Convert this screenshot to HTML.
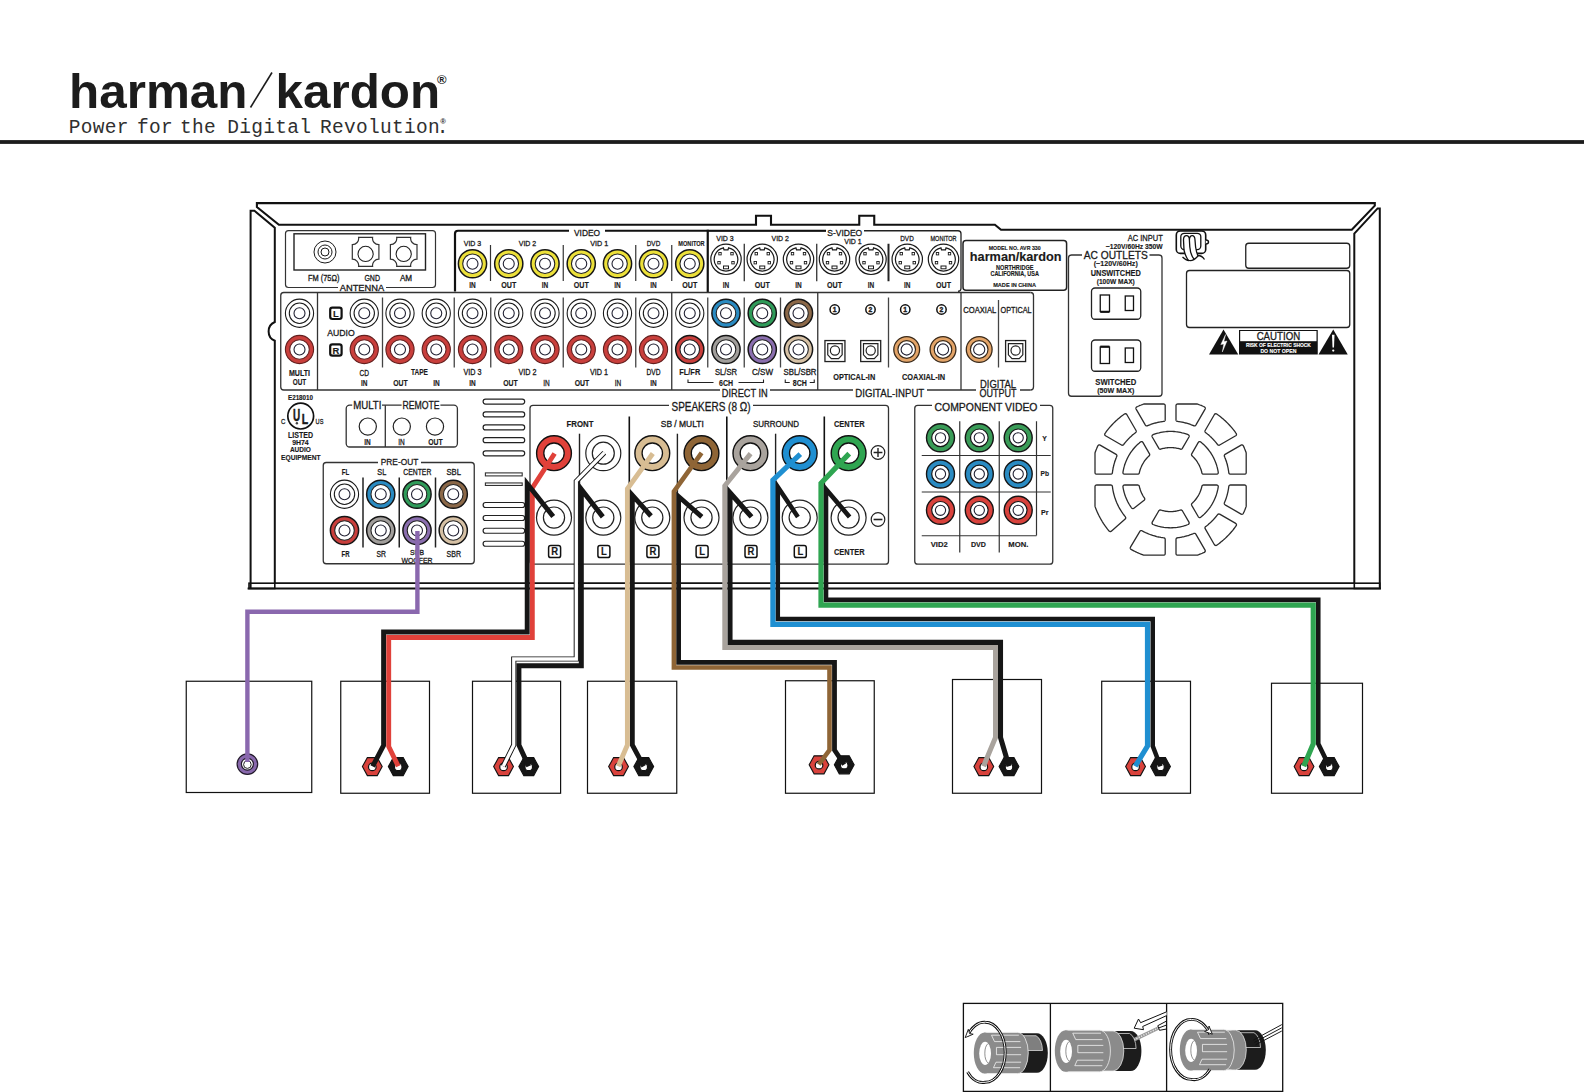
<!DOCTYPE html>
<html lang="en"><head><meta charset="utf-8"><title>harman/kardon AVR 330 speaker connections</title>
<style>
html,body{margin:0;padding:0;background:#fff}
body{width:1584px;height:1092px;overflow:hidden}
svg{display:block;font-family:"Liberation Sans",sans-serif}
.mono{font-family:"Liberation Mono",monospace}
</style></head><body>
<svg width="1584" height="1092" viewBox="0 0 1584 1092">
<rect width="1584" height="1092" fill="#fff"/>
<text x="69" y="107.5" font-size="48.5" font-weight="bold" fill="#1c1c1c" textLength="178.5" lengthAdjust="spacingAndGlyphs">harman</text>
<line x1="250.50" y1="107.50" x2="272.00" y2="72.50" stroke="#1c1c1c" stroke-width="1.6"/>
<text x="275.6" y="107.5" font-size="48.5" font-weight="bold" fill="#1c1c1c" textLength="164.5" lengthAdjust="spacingAndGlyphs">kardon</text>
<text x="437.1" y="84.4" font-size="13" font-weight="bold" fill="#1c1c1c">®</text>
<text class="mono" x="68.85" y="133" font-size="19.5" letter-spacing="0.3" fill="#303030">Power</text>
<text class="mono" x="137.05" y="133" font-size="19.5" letter-spacing="0.3" fill="#303030">for</text>
<text class="mono" x="179.95" y="133" font-size="19.5" letter-spacing="0.3" fill="#303030">the</text>
<text class="mono" x="227.35" y="133" font-size="19.5" letter-spacing="0.3" fill="#303030">Digital</text>
<text class="mono" x="319.95" y="133" font-size="19.5" letter-spacing="0.3" fill="#303030">Revolution</text>
<text class="mono" x="436.65" y="133" font-size="19.5" letter-spacing="0.3" fill="#303030">.</text>
<text x="440.2" y="123.7" font-size="7.6" font-weight="bold" fill="#2a2a2a">®</text>
<rect x="0.00" y="140.10" width="1584.00" height="3.80" rx="0" stroke="none" stroke-width="0" fill="#1c1c1c"/>
<path d="M256.9 207 L256.9 203.1 L1374.8 203.1 L1374.8 205.6 L1351.8 229.8 L1001 229.8 L994.9 224.8 L874.25 224.8 L874.25 215.75 L859.25 215.75 L859.25 224.8 L771 224.8 L771 215.75 L756 215.75 L756 224.8 L278.9 224.8 Z" stroke="#111" stroke-width="2.1" fill="none" stroke-linejoin="miter"/>
<path d="M250.6 588.5 L250.6 210.7 L254.4 210.7 L274.8 227.8 L274.8 322 A 10.2 10.2 0 0 0 274.8 340.75 L274.8 583.2" stroke="#111" stroke-width="2.0" fill="none"/>
<path d="M1379.8 588.5 L1379.8 208.4 L1377.6 208.4 L1354.3 233.6 L1354.3 583.2" stroke="#111" stroke-width="2.0" fill="none"/>
<line x1="274.80" y1="583.20" x2="1354.30" y2="583.20" stroke="#111" stroke-width="1.8"/>
<line x1="247.60" y1="588.50" x2="1381.00" y2="588.50" stroke="#111" stroke-width="2.2"/>
<rect x="249.00" y="583.20" width="25.80" height="5.30" rx="0" stroke="#111" stroke-width="1.6" fill="none"/>
<rect x="1354.30" y="583.20" width="25.50" height="5.30" rx="0" stroke="#111" stroke-width="1.6" fill="none"/>
<rect x="285.50" y="230.60" width="150.00" height="56.90" rx="3" stroke="#333" stroke-width="1.2" fill="none"/>
<rect x="294.00" y="233.80" width="131.50" height="36.20" rx="0" stroke="#222" stroke-width="1.4" fill="none"/>
<rect x="338.00" y="285.00" width="48.00" height="5.00" rx="0" stroke="none" stroke-width="0" fill="#fff"/>
<circle cx="325.00" cy="252.00" r="11.00" stroke="#1a1a1a" stroke-width="1.0" fill="none"/>
<circle cx="325.00" cy="252.00" r="7.00" stroke="#1a1a1a" stroke-width="1.0" fill="none"/>
<circle cx="325.00" cy="252.00" r="4.00" stroke="#1a1a1a" stroke-width="1.0" fill="none"/>
<path d="M358.60 237.40 L372.60 237.40 A6.3 6.3 0 0 0 378.90 244.70 L378.90 259.10 A6.3 6.3 0 0 0 372.60 266.40 L358.60 266.40 A6.3 6.3 0 0 0 352.30 259.10 L352.30 244.70 A6.3 6.3 0 0 0 358.60 237.40 Z" stroke="#333" stroke-width="1.2" fill="#fff"/>
<circle cx="365.60" cy="253.90" r="7.60" stroke="#222" stroke-width="1.1" fill="none"/>
<path d="M396.70 237.40 L410.70 237.40 A6.3 6.3 0 0 0 417.00 244.70 L417.00 259.10 A6.3 6.3 0 0 0 410.70 266.40 L396.70 266.40 A6.3 6.3 0 0 0 390.40 259.10 L390.40 244.70 A6.3 6.3 0 0 0 396.70 237.40 Z" stroke="#333" stroke-width="1.2" fill="#fff"/>
<circle cx="403.70" cy="253.90" r="7.60" stroke="#222" stroke-width="1.1" fill="none"/>
<text x="308.00" y="280.50" font-size="8.4" textLength="31.50" lengthAdjust="spacingAndGlyphs" fill="#1a1a1a" stroke="#1a1a1a" stroke-width="0.3">FM (75Ω)</text>
<text x="364.40" y="280.50" font-size="8.4" textLength="15.60" lengthAdjust="spacingAndGlyphs" fill="#1a1a1a" stroke="#1a1a1a" stroke-width="0.3">GND</text>
<text x="399.90" y="280.50" font-size="8.4" textLength="12.20" lengthAdjust="spacingAndGlyphs" fill="#1a1a1a" stroke="#1a1a1a" stroke-width="0.3">AM</text>
<text x="339.75" y="291.30" font-size="9.2" textLength="44.50" lengthAdjust="spacingAndGlyphs" fill="#1a1a1a" stroke="#1a1a1a" stroke-width="0.3">ANTENNA</text>
<path d="M707.75 230.75 L458 230.75 Q455 230.75 455 233.75 L455 291.5" stroke="#111" stroke-width="2.2" fill="none"/>
<line x1="707.75" y1="229.70" x2="707.75" y2="292.00" stroke="#111" stroke-width="2.2"/>
<path d="M707.75 230.75 L958 230.75 Q961 230.75 961 233.75 L961 288 Q961 291.25 958 291.25" stroke="#222" stroke-width="1.3" fill="none"/>
<line x1="707.75" y1="230.75" x2="860.00" y2="230.75" stroke="#111" stroke-width="2.2"/>
<rect x="569.00" y="228.00" width="36.00" height="6.00" rx="0" stroke="none" stroke-width="0" fill="#fff"/>
<rect x="826.00" y="228.00" width="38.00" height="6.00" rx="0" stroke="none" stroke-width="0" fill="#fff"/>
<text x="574.00" y="236.00" font-size="9" textLength="26.00" lengthAdjust="spacingAndGlyphs" fill="#1a1a1a" stroke="#1a1a1a" stroke-width="0.3">VIDEO</text>
<text x="827.25" y="236.00" font-size="9" textLength="35.00" lengthAdjust="spacingAndGlyphs" fill="#1a1a1a" stroke="#1a1a1a" stroke-width="0.3">S-VIDEO</text>
<circle cx="472.50" cy="263.75" r="14.10" stroke="#151515" stroke-width="1.5" fill="#ece03a"/>
<circle cx="472.50" cy="263.75" r="9.80" stroke="#222" stroke-width="1.1" fill="#fff"/>
<circle cx="472.50" cy="263.75" r="5.50" stroke="#223" stroke-width="1.1" fill="#fff"/>
<circle cx="508.75" cy="263.75" r="14.10" stroke="#151515" stroke-width="1.5" fill="#ece03a"/>
<circle cx="508.75" cy="263.75" r="9.80" stroke="#222" stroke-width="1.1" fill="#fff"/>
<circle cx="508.75" cy="263.75" r="5.50" stroke="#223" stroke-width="1.1" fill="#fff"/>
<circle cx="545.00" cy="263.75" r="14.10" stroke="#151515" stroke-width="1.5" fill="#ece03a"/>
<circle cx="545.00" cy="263.75" r="9.80" stroke="#222" stroke-width="1.1" fill="#fff"/>
<circle cx="545.00" cy="263.75" r="5.50" stroke="#223" stroke-width="1.1" fill="#fff"/>
<circle cx="581.25" cy="263.75" r="14.10" stroke="#151515" stroke-width="1.5" fill="#ece03a"/>
<circle cx="581.25" cy="263.75" r="9.80" stroke="#222" stroke-width="1.1" fill="#fff"/>
<circle cx="581.25" cy="263.75" r="5.50" stroke="#223" stroke-width="1.1" fill="#fff"/>
<circle cx="617.50" cy="263.75" r="14.10" stroke="#151515" stroke-width="1.5" fill="#ece03a"/>
<circle cx="617.50" cy="263.75" r="9.80" stroke="#222" stroke-width="1.1" fill="#fff"/>
<circle cx="617.50" cy="263.75" r="5.50" stroke="#223" stroke-width="1.1" fill="#fff"/>
<circle cx="653.50" cy="263.75" r="14.10" stroke="#151515" stroke-width="1.5" fill="#ece03a"/>
<circle cx="653.50" cy="263.75" r="9.80" stroke="#222" stroke-width="1.1" fill="#fff"/>
<circle cx="653.50" cy="263.75" r="5.50" stroke="#223" stroke-width="1.1" fill="#fff"/>
<circle cx="689.75" cy="263.75" r="14.10" stroke="#151515" stroke-width="1.5" fill="#ece03a"/>
<circle cx="689.75" cy="263.75" r="9.80" stroke="#222" stroke-width="1.1" fill="#fff"/>
<circle cx="689.75" cy="263.75" r="5.50" stroke="#223" stroke-width="1.1" fill="#fff"/>
<line x1="490.50" y1="245.00" x2="490.50" y2="281.00" stroke="#333" stroke-width="1.2"/>
<line x1="563.25" y1="245.00" x2="563.25" y2="281.00" stroke="#333" stroke-width="1.2"/>
<line x1="635.75" y1="245.00" x2="635.75" y2="281.00" stroke="#333" stroke-width="1.2"/>
<line x1="671.75" y1="245.00" x2="671.75" y2="281.00" stroke="#333" stroke-width="1.2"/>
<text x="463.75" y="245.80" font-size="8.0" textLength="17.50" lengthAdjust="spacingAndGlyphs" fill="#1a1a1a" stroke="#1a1a1a" stroke-width="0.3">VID 3</text>
<text x="518.75" y="245.80" font-size="8.0" textLength="17.50" lengthAdjust="spacingAndGlyphs" fill="#1a1a1a" stroke="#1a1a1a" stroke-width="0.3">VID 2</text>
<text x="590.30" y="245.80" font-size="8.0" textLength="18.00" lengthAdjust="spacingAndGlyphs" fill="#1a1a1a" stroke="#1a1a1a" stroke-width="0.3">VID 1</text>
<text x="646.75" y="245.80" font-size="8.0" textLength="13.50" lengthAdjust="spacingAndGlyphs" fill="#1a1a1a" stroke="#1a1a1a" stroke-width="0.3">DVD</text>
<text x="678.35" y="245.80" font-size="7.6" font-weight="bold" textLength="26.30" lengthAdjust="spacingAndGlyphs" fill="#1a1a1a" stroke="#1a1a1a" stroke-width="0.15">MONITOR</text>
<text x="469.25" y="288.20" font-size="8.6" font-weight="bold" textLength="6.50" lengthAdjust="spacingAndGlyphs" fill="#1a1a1a" stroke="#1a1a1a" stroke-width="0.15">IN</text>
<text x="501.25" y="288.20" font-size="8.6" font-weight="bold" textLength="15.00" lengthAdjust="spacingAndGlyphs" fill="#1a1a1a" stroke="#1a1a1a" stroke-width="0.15">OUT</text>
<text x="541.75" y="288.20" font-size="8.6" font-weight="bold" textLength="6.50" lengthAdjust="spacingAndGlyphs" fill="#1a1a1a" stroke="#1a1a1a" stroke-width="0.15">IN</text>
<text x="573.75" y="288.20" font-size="8.6" font-weight="bold" textLength="15.00" lengthAdjust="spacingAndGlyphs" fill="#1a1a1a" stroke="#1a1a1a" stroke-width="0.15">OUT</text>
<text x="614.25" y="288.20" font-size="8.6" font-weight="bold" textLength="6.50" lengthAdjust="spacingAndGlyphs" fill="#1a1a1a" stroke="#1a1a1a" stroke-width="0.15">IN</text>
<text x="650.25" y="288.20" font-size="8.6" font-weight="bold" textLength="6.50" lengthAdjust="spacingAndGlyphs" fill="#1a1a1a" stroke="#1a1a1a" stroke-width="0.15">IN</text>
<text x="682.25" y="288.20" font-size="8.6" font-weight="bold" textLength="15.00" lengthAdjust="spacingAndGlyphs" fill="#1a1a1a" stroke="#1a1a1a" stroke-width="0.15">OUT</text>
<circle cx="726.00" cy="259.30" r="15.20" stroke="#1a1a1a" stroke-width="1.2" fill="#fff"/>
<path d="M728.60 247.79 A11.8 11.8 0 1 1 723.40 247.79 L724.00 249.79 L728.00 249.79 Z" stroke="#1a1a1a" stroke-width="1.2" fill="#fff"/>
<rect x="718.80" y="252.50" width="2.40" height="2.40" rx="0" stroke="#1a1a1a" stroke-width="0.9" fill="#fff"/>
<rect x="730.80" y="252.50" width="2.40" height="2.40" rx="0" stroke="#1a1a1a" stroke-width="0.9" fill="#fff"/>
<rect x="717.80" y="261.50" width="2.40" height="2.40" rx="0" stroke="#1a1a1a" stroke-width="0.9" fill="#fff"/>
<rect x="731.80" y="261.50" width="2.40" height="2.40" rx="0" stroke="#1a1a1a" stroke-width="0.9" fill="#fff"/>
<rect x="723.50" y="266.00" width="5.00" height="2.80" rx="0" stroke="#1a1a1a" stroke-width="1.0" fill="#fff"/>
<circle cx="762.25" cy="259.30" r="15.20" stroke="#1a1a1a" stroke-width="1.2" fill="#fff"/>
<path d="M764.85 247.79 A11.8 11.8 0 1 1 759.65 247.79 L760.25 249.79 L764.25 249.79 Z" stroke="#1a1a1a" stroke-width="1.2" fill="#fff"/>
<rect x="755.05" y="252.50" width="2.40" height="2.40" rx="0" stroke="#1a1a1a" stroke-width="0.9" fill="#fff"/>
<rect x="767.05" y="252.50" width="2.40" height="2.40" rx="0" stroke="#1a1a1a" stroke-width="0.9" fill="#fff"/>
<rect x="754.05" y="261.50" width="2.40" height="2.40" rx="0" stroke="#1a1a1a" stroke-width="0.9" fill="#fff"/>
<rect x="768.05" y="261.50" width="2.40" height="2.40" rx="0" stroke="#1a1a1a" stroke-width="0.9" fill="#fff"/>
<rect x="759.75" y="266.00" width="5.00" height="2.80" rx="0" stroke="#1a1a1a" stroke-width="1.0" fill="#fff"/>
<circle cx="798.50" cy="259.30" r="15.20" stroke="#1a1a1a" stroke-width="1.2" fill="#fff"/>
<path d="M801.10 247.79 A11.8 11.8 0 1 1 795.90 247.79 L796.50 249.79 L800.50 249.79 Z" stroke="#1a1a1a" stroke-width="1.2" fill="#fff"/>
<rect x="791.30" y="252.50" width="2.40" height="2.40" rx="0" stroke="#1a1a1a" stroke-width="0.9" fill="#fff"/>
<rect x="803.30" y="252.50" width="2.40" height="2.40" rx="0" stroke="#1a1a1a" stroke-width="0.9" fill="#fff"/>
<rect x="790.30" y="261.50" width="2.40" height="2.40" rx="0" stroke="#1a1a1a" stroke-width="0.9" fill="#fff"/>
<rect x="804.30" y="261.50" width="2.40" height="2.40" rx="0" stroke="#1a1a1a" stroke-width="0.9" fill="#fff"/>
<rect x="796.00" y="266.00" width="5.00" height="2.80" rx="0" stroke="#1a1a1a" stroke-width="1.0" fill="#fff"/>
<circle cx="834.50" cy="259.30" r="15.20" stroke="#1a1a1a" stroke-width="1.2" fill="#fff"/>
<path d="M837.10 247.79 A11.8 11.8 0 1 1 831.90 247.79 L832.50 249.79 L836.50 249.79 Z" stroke="#1a1a1a" stroke-width="1.2" fill="#fff"/>
<rect x="827.30" y="252.50" width="2.40" height="2.40" rx="0" stroke="#1a1a1a" stroke-width="0.9" fill="#fff"/>
<rect x="839.30" y="252.50" width="2.40" height="2.40" rx="0" stroke="#1a1a1a" stroke-width="0.9" fill="#fff"/>
<rect x="826.30" y="261.50" width="2.40" height="2.40" rx="0" stroke="#1a1a1a" stroke-width="0.9" fill="#fff"/>
<rect x="840.30" y="261.50" width="2.40" height="2.40" rx="0" stroke="#1a1a1a" stroke-width="0.9" fill="#fff"/>
<rect x="832.00" y="266.00" width="5.00" height="2.80" rx="0" stroke="#1a1a1a" stroke-width="1.0" fill="#fff"/>
<circle cx="871.00" cy="259.30" r="15.20" stroke="#1a1a1a" stroke-width="1.2" fill="#fff"/>
<path d="M873.60 247.79 A11.8 11.8 0 1 1 868.40 247.79 L869.00 249.79 L873.00 249.79 Z" stroke="#1a1a1a" stroke-width="1.2" fill="#fff"/>
<rect x="863.80" y="252.50" width="2.40" height="2.40" rx="0" stroke="#1a1a1a" stroke-width="0.9" fill="#fff"/>
<rect x="875.80" y="252.50" width="2.40" height="2.40" rx="0" stroke="#1a1a1a" stroke-width="0.9" fill="#fff"/>
<rect x="862.80" y="261.50" width="2.40" height="2.40" rx="0" stroke="#1a1a1a" stroke-width="0.9" fill="#fff"/>
<rect x="876.80" y="261.50" width="2.40" height="2.40" rx="0" stroke="#1a1a1a" stroke-width="0.9" fill="#fff"/>
<rect x="868.50" y="266.00" width="5.00" height="2.80" rx="0" stroke="#1a1a1a" stroke-width="1.0" fill="#fff"/>
<circle cx="907.25" cy="259.30" r="15.20" stroke="#1a1a1a" stroke-width="1.2" fill="#fff"/>
<path d="M909.85 247.79 A11.8 11.8 0 1 1 904.65 247.79 L905.25 249.79 L909.25 249.79 Z" stroke="#1a1a1a" stroke-width="1.2" fill="#fff"/>
<rect x="900.05" y="252.50" width="2.40" height="2.40" rx="0" stroke="#1a1a1a" stroke-width="0.9" fill="#fff"/>
<rect x="912.05" y="252.50" width="2.40" height="2.40" rx="0" stroke="#1a1a1a" stroke-width="0.9" fill="#fff"/>
<rect x="899.05" y="261.50" width="2.40" height="2.40" rx="0" stroke="#1a1a1a" stroke-width="0.9" fill="#fff"/>
<rect x="913.05" y="261.50" width="2.40" height="2.40" rx="0" stroke="#1a1a1a" stroke-width="0.9" fill="#fff"/>
<rect x="904.75" y="266.00" width="5.00" height="2.80" rx="0" stroke="#1a1a1a" stroke-width="1.0" fill="#fff"/>
<circle cx="943.50" cy="259.30" r="15.20" stroke="#1a1a1a" stroke-width="1.2" fill="#fff"/>
<path d="M946.10 247.79 A11.8 11.8 0 1 1 940.90 247.79 L941.50 249.79 L945.50 249.79 Z" stroke="#1a1a1a" stroke-width="1.2" fill="#fff"/>
<rect x="936.30" y="252.50" width="2.40" height="2.40" rx="0" stroke="#1a1a1a" stroke-width="0.9" fill="#fff"/>
<rect x="948.30" y="252.50" width="2.40" height="2.40" rx="0" stroke="#1a1a1a" stroke-width="0.9" fill="#fff"/>
<rect x="935.30" y="261.50" width="2.40" height="2.40" rx="0" stroke="#1a1a1a" stroke-width="0.9" fill="#fff"/>
<rect x="949.30" y="261.50" width="2.40" height="2.40" rx="0" stroke="#1a1a1a" stroke-width="0.9" fill="#fff"/>
<rect x="941.00" y="266.00" width="5.00" height="2.80" rx="0" stroke="#1a1a1a" stroke-width="1.0" fill="#fff"/>
<line x1="744.25" y1="243.75" x2="744.25" y2="281.25" stroke="#222" stroke-width="1.2"/>
<line x1="816.75" y1="243.75" x2="816.75" y2="281.25" stroke="#222" stroke-width="1.2"/>
<line x1="888.50" y1="243.75" x2="888.50" y2="281.25" stroke="#222" stroke-width="2.0"/>
<text x="716.25" y="241.30" font-size="8.0" textLength="17.50" lengthAdjust="spacingAndGlyphs" fill="#1a1a1a" stroke="#1a1a1a" stroke-width="0.3">VID 3</text>
<text x="771.50" y="241.30" font-size="8.0" textLength="17.50" lengthAdjust="spacingAndGlyphs" fill="#1a1a1a" stroke="#1a1a1a" stroke-width="0.3">VID 2</text>
<text x="844.25" y="244.00" font-size="8.0" textLength="17.50" lengthAdjust="spacingAndGlyphs" fill="#1a1a1a" stroke="#1a1a1a" stroke-width="0.3">VID 1</text>
<text x="900.25" y="241.30" font-size="8.0" textLength="13.50" lengthAdjust="spacingAndGlyphs" fill="#1a1a1a" stroke="#1a1a1a" stroke-width="0.3">DVD</text>
<text x="930.50" y="241.30" font-size="7.6" textLength="26.00" lengthAdjust="spacingAndGlyphs" fill="#1a1a1a" stroke="#1a1a1a" stroke-width="0.3">MONITOR</text>
<text x="722.75" y="288.20" font-size="8.6" font-weight="bold" textLength="6.50" lengthAdjust="spacingAndGlyphs" fill="#1a1a1a" stroke="#1a1a1a" stroke-width="0.15">IN</text>
<text x="754.75" y="288.20" font-size="8.6" font-weight="bold" textLength="15.00" lengthAdjust="spacingAndGlyphs" fill="#1a1a1a" stroke="#1a1a1a" stroke-width="0.15">OUT</text>
<text x="795.25" y="288.20" font-size="8.6" font-weight="bold" textLength="6.50" lengthAdjust="spacingAndGlyphs" fill="#1a1a1a" stroke="#1a1a1a" stroke-width="0.15">IN</text>
<text x="827.00" y="288.20" font-size="8.6" font-weight="bold" textLength="15.00" lengthAdjust="spacingAndGlyphs" fill="#1a1a1a" stroke="#1a1a1a" stroke-width="0.15">OUT</text>
<text x="867.75" y="288.20" font-size="8.6" font-weight="bold" textLength="6.50" lengthAdjust="spacingAndGlyphs" fill="#1a1a1a" stroke="#1a1a1a" stroke-width="0.15">IN</text>
<text x="904.00" y="288.20" font-size="8.6" font-weight="bold" textLength="6.50" lengthAdjust="spacingAndGlyphs" fill="#1a1a1a" stroke="#1a1a1a" stroke-width="0.15">IN</text>
<text x="936.00" y="288.20" font-size="8.6" font-weight="bold" textLength="15.00" lengthAdjust="spacingAndGlyphs" fill="#1a1a1a" stroke="#1a1a1a" stroke-width="0.15">OUT</text>
<rect x="963.00" y="240.40" width="103.60" height="49.90" rx="3" stroke="#222" stroke-width="1.5" fill="none"/>
<text x="988.70" y="249.80" font-size="6.2" font-weight="bold" textLength="52.00" lengthAdjust="spacingAndGlyphs" fill="#1a1a1a" stroke="#1a1a1a" stroke-width="0.15">MODEL NO. AVR 330</text>
<text x="969.85" y="260.80" font-size="12.6" font-weight="bold" textLength="91.70" lengthAdjust="spacingAndGlyphs" fill="#1a1a1a" stroke="#1a1a1a" stroke-width="0.15">harman/kardon</text>
<text x="996.10" y="269.80" font-size="6.4" font-weight="bold" textLength="37.40" lengthAdjust="spacingAndGlyphs" fill="#1a1a1a" stroke="#1a1a1a" stroke-width="0.15">NORTHRIDGE</text>
<text x="990.45" y="275.80" font-size="6.4" font-weight="bold" textLength="48.50" lengthAdjust="spacingAndGlyphs" fill="#1a1a1a" stroke="#1a1a1a" stroke-width="0.15">CALIFORNIA, USA</text>
<text x="993.20" y="286.70" font-size="6.2" font-weight="bold" textLength="42.80" lengthAdjust="spacingAndGlyphs" fill="#1a1a1a" stroke="#1a1a1a" stroke-width="0.15">MADE IN CHINA</text>
<path d="M1030.5 292.5 L283.75 292.5 Q280.75 292.5 280.75 295.5 L280.75 387 Q280.75 390 283.75 390 L1030.5 390" stroke="#333" stroke-width="1.3" fill="none"/>
<path d="M1030.5 292.5 Q1033.5 292.5 1033.5 295.5 L1033.5 387 Q1033.5 390 1030.5 390" stroke="#333" stroke-width="1.3" fill="none"/>
<rect x="720.00" y="388.00" width="50.00" height="4.00" rx="0" stroke="none" stroke-width="0" fill="#fff"/>
<rect x="853.00" y="388.00" width="74.00" height="4.00" rx="0" stroke="none" stroke-width="0" fill="#fff"/>
<rect x="976.00" y="388.00" width="44.00" height="4.00" rx="0" stroke="none" stroke-width="0" fill="#fff"/>
<line x1="317.50" y1="292.50" x2="317.50" y2="390.00" stroke="#333" stroke-width="1.3"/>
<line x1="671.75" y1="292.50" x2="671.75" y2="390.00" stroke="#333" stroke-width="1.3"/>
<line x1="817.75" y1="292.50" x2="817.75" y2="390.00" stroke="#333" stroke-width="1.3"/>
<line x1="961.00" y1="292.50" x2="961.00" y2="390.00" stroke="#333" stroke-width="1.3"/>
<line x1="382.50" y1="297.50" x2="382.50" y2="367.50" stroke="#444" stroke-width="1.3"/>
<line x1="454.25" y1="297.50" x2="454.25" y2="367.50" stroke="#444" stroke-width="1.3"/>
<line x1="490.75" y1="297.50" x2="490.75" y2="367.50" stroke="#444" stroke-width="1.3"/>
<line x1="563.25" y1="297.50" x2="563.25" y2="367.50" stroke="#444" stroke-width="1.3"/>
<line x1="635.75" y1="297.50" x2="635.75" y2="367.50" stroke="#444" stroke-width="1.3"/>
<line x1="707.75" y1="297.50" x2="707.75" y2="367.50" stroke="#444" stroke-width="1.3"/>
<line x1="744.25" y1="297.50" x2="744.25" y2="367.50" stroke="#444" stroke-width="1.3"/>
<line x1="780.50" y1="297.50" x2="780.50" y2="367.50" stroke="#444" stroke-width="1.3"/>
<line x1="888.50" y1="297.50" x2="888.50" y2="367.50" stroke="#444" stroke-width="1.3"/>
<line x1="998.50" y1="300.00" x2="998.50" y2="367.50" stroke="#444" stroke-width="1.3"/>
<circle cx="299.50" cy="313.25" r="14.10" stroke="#1a1a1a" stroke-width="1.1" fill="#fff"/>
<circle cx="299.50" cy="313.25" r="10.20" stroke="#1a1a1a" stroke-width="1.1" fill="#fff"/>
<circle cx="299.50" cy="313.25" r="5.50" stroke="#223" stroke-width="1.1" fill="#fff"/>
<circle cx="299.50" cy="349.50" r="14.10" stroke="#641f1e" stroke-width="1.1" fill="#c93f3c"/>
<circle cx="299.50" cy="349.50" r="9.80" stroke="#641f1e" stroke-width="1.1" fill="#fff"/>
<circle cx="299.50" cy="349.50" r="5.50" stroke="#223" stroke-width="1.1" fill="#fff"/>
<circle cx="364.25" cy="313.25" r="14.10" stroke="#1a1a1a" stroke-width="1.1" fill="#fff"/>
<circle cx="364.25" cy="313.25" r="10.20" stroke="#1a1a1a" stroke-width="1.1" fill="#fff"/>
<circle cx="364.25" cy="313.25" r="5.50" stroke="#223" stroke-width="1.1" fill="#fff"/>
<circle cx="364.25" cy="349.50" r="14.10" stroke="#641f1e" stroke-width="1.1" fill="#c93f3c"/>
<circle cx="364.25" cy="349.50" r="9.80" stroke="#641f1e" stroke-width="1.1" fill="#fff"/>
<circle cx="364.25" cy="349.50" r="5.50" stroke="#223" stroke-width="1.1" fill="#fff"/>
<circle cx="400.00" cy="313.25" r="14.10" stroke="#1a1a1a" stroke-width="1.1" fill="#fff"/>
<circle cx="400.00" cy="313.25" r="10.20" stroke="#1a1a1a" stroke-width="1.1" fill="#fff"/>
<circle cx="400.00" cy="313.25" r="5.50" stroke="#223" stroke-width="1.1" fill="#fff"/>
<circle cx="400.00" cy="349.50" r="14.10" stroke="#641f1e" stroke-width="1.1" fill="#c93f3c"/>
<circle cx="400.00" cy="349.50" r="9.80" stroke="#641f1e" stroke-width="1.1" fill="#fff"/>
<circle cx="400.00" cy="349.50" r="5.50" stroke="#223" stroke-width="1.1" fill="#fff"/>
<circle cx="436.25" cy="313.25" r="14.10" stroke="#1a1a1a" stroke-width="1.1" fill="#fff"/>
<circle cx="436.25" cy="313.25" r="10.20" stroke="#1a1a1a" stroke-width="1.1" fill="#fff"/>
<circle cx="436.25" cy="313.25" r="5.50" stroke="#223" stroke-width="1.1" fill="#fff"/>
<circle cx="436.25" cy="349.50" r="14.10" stroke="#641f1e" stroke-width="1.1" fill="#c93f3c"/>
<circle cx="436.25" cy="349.50" r="9.80" stroke="#641f1e" stroke-width="1.1" fill="#fff"/>
<circle cx="436.25" cy="349.50" r="5.50" stroke="#223" stroke-width="1.1" fill="#fff"/>
<circle cx="472.50" cy="313.25" r="14.10" stroke="#1a1a1a" stroke-width="1.1" fill="#fff"/>
<circle cx="472.50" cy="313.25" r="10.20" stroke="#1a1a1a" stroke-width="1.1" fill="#fff"/>
<circle cx="472.50" cy="313.25" r="5.50" stroke="#223" stroke-width="1.1" fill="#fff"/>
<circle cx="472.50" cy="349.50" r="14.10" stroke="#641f1e" stroke-width="1.1" fill="#c93f3c"/>
<circle cx="472.50" cy="349.50" r="9.80" stroke="#641f1e" stroke-width="1.1" fill="#fff"/>
<circle cx="472.50" cy="349.50" r="5.50" stroke="#223" stroke-width="1.1" fill="#fff"/>
<circle cx="508.75" cy="313.25" r="14.10" stroke="#1a1a1a" stroke-width="1.1" fill="#fff"/>
<circle cx="508.75" cy="313.25" r="10.20" stroke="#1a1a1a" stroke-width="1.1" fill="#fff"/>
<circle cx="508.75" cy="313.25" r="5.50" stroke="#223" stroke-width="1.1" fill="#fff"/>
<circle cx="508.75" cy="349.50" r="14.10" stroke="#641f1e" stroke-width="1.1" fill="#c93f3c"/>
<circle cx="508.75" cy="349.50" r="9.80" stroke="#641f1e" stroke-width="1.1" fill="#fff"/>
<circle cx="508.75" cy="349.50" r="5.50" stroke="#223" stroke-width="1.1" fill="#fff"/>
<circle cx="545.00" cy="313.25" r="14.10" stroke="#1a1a1a" stroke-width="1.1" fill="#fff"/>
<circle cx="545.00" cy="313.25" r="10.20" stroke="#1a1a1a" stroke-width="1.1" fill="#fff"/>
<circle cx="545.00" cy="313.25" r="5.50" stroke="#223" stroke-width="1.1" fill="#fff"/>
<circle cx="545.00" cy="349.50" r="14.10" stroke="#641f1e" stroke-width="1.1" fill="#c93f3c"/>
<circle cx="545.00" cy="349.50" r="9.80" stroke="#641f1e" stroke-width="1.1" fill="#fff"/>
<circle cx="545.00" cy="349.50" r="5.50" stroke="#223" stroke-width="1.1" fill="#fff"/>
<circle cx="581.25" cy="313.25" r="14.10" stroke="#1a1a1a" stroke-width="1.1" fill="#fff"/>
<circle cx="581.25" cy="313.25" r="10.20" stroke="#1a1a1a" stroke-width="1.1" fill="#fff"/>
<circle cx="581.25" cy="313.25" r="5.50" stroke="#223" stroke-width="1.1" fill="#fff"/>
<circle cx="581.25" cy="349.50" r="14.10" stroke="#641f1e" stroke-width="1.1" fill="#c93f3c"/>
<circle cx="581.25" cy="349.50" r="9.80" stroke="#641f1e" stroke-width="1.1" fill="#fff"/>
<circle cx="581.25" cy="349.50" r="5.50" stroke="#223" stroke-width="1.1" fill="#fff"/>
<circle cx="617.50" cy="313.25" r="14.10" stroke="#1a1a1a" stroke-width="1.1" fill="#fff"/>
<circle cx="617.50" cy="313.25" r="10.20" stroke="#1a1a1a" stroke-width="1.1" fill="#fff"/>
<circle cx="617.50" cy="313.25" r="5.50" stroke="#223" stroke-width="1.1" fill="#fff"/>
<circle cx="617.50" cy="349.50" r="14.10" stroke="#641f1e" stroke-width="1.1" fill="#c93f3c"/>
<circle cx="617.50" cy="349.50" r="9.80" stroke="#641f1e" stroke-width="1.1" fill="#fff"/>
<circle cx="617.50" cy="349.50" r="5.50" stroke="#223" stroke-width="1.1" fill="#fff"/>
<circle cx="653.50" cy="313.25" r="14.10" stroke="#1a1a1a" stroke-width="1.1" fill="#fff"/>
<circle cx="653.50" cy="313.25" r="10.20" stroke="#1a1a1a" stroke-width="1.1" fill="#fff"/>
<circle cx="653.50" cy="313.25" r="5.50" stroke="#223" stroke-width="1.1" fill="#fff"/>
<circle cx="653.50" cy="349.50" r="14.10" stroke="#641f1e" stroke-width="1.1" fill="#c93f3c"/>
<circle cx="653.50" cy="349.50" r="9.80" stroke="#641f1e" stroke-width="1.1" fill="#fff"/>
<circle cx="653.50" cy="349.50" r="5.50" stroke="#223" stroke-width="1.1" fill="#fff"/>
<circle cx="689.75" cy="313.25" r="14.10" stroke="#1a1a1a" stroke-width="1.1" fill="#fff"/>
<circle cx="689.75" cy="313.25" r="10.20" stroke="#1a1a1a" stroke-width="1.1" fill="#fff"/>
<circle cx="689.75" cy="313.25" r="5.50" stroke="#223" stroke-width="1.1" fill="#fff"/>
<circle cx="689.75" cy="349.50" r="14.10" stroke="#151515" stroke-width="1.5" fill="#c93f3c"/>
<circle cx="689.75" cy="349.50" r="9.80" stroke="#222" stroke-width="1.1" fill="#fff"/>
<circle cx="689.75" cy="349.50" r="5.50" stroke="#223" stroke-width="1.1" fill="#fff"/>
<circle cx="726.00" cy="313.25" r="14.10" stroke="#151515" stroke-width="1.5" fill="#2a8bc2"/>
<circle cx="726.00" cy="313.25" r="9.80" stroke="#222" stroke-width="1.1" fill="#fff"/>
<circle cx="726.00" cy="313.25" r="5.50" stroke="#223" stroke-width="1.1" fill="#fff"/>
<circle cx="726.00" cy="349.50" r="14.10" stroke="#151515" stroke-width="1.5" fill="#a19e9b"/>
<circle cx="726.00" cy="349.50" r="9.80" stroke="#222" stroke-width="1.1" fill="#fff"/>
<circle cx="726.00" cy="349.50" r="5.50" stroke="#223" stroke-width="1.1" fill="#fff"/>
<circle cx="762.25" cy="313.25" r="14.10" stroke="#151515" stroke-width="1.5" fill="#2f9b59"/>
<circle cx="762.25" cy="313.25" r="9.80" stroke="#222" stroke-width="1.1" fill="#fff"/>
<circle cx="762.25" cy="313.25" r="5.50" stroke="#223" stroke-width="1.1" fill="#fff"/>
<circle cx="762.25" cy="349.50" r="14.10" stroke="#151515" stroke-width="1.5" fill="#8a6eae"/>
<circle cx="762.25" cy="349.50" r="9.80" stroke="#222" stroke-width="1.1" fill="#fff"/>
<circle cx="762.25" cy="349.50" r="5.50" stroke="#223" stroke-width="1.1" fill="#fff"/>
<circle cx="798.50" cy="313.25" r="14.10" stroke="#151515" stroke-width="1.5" fill="#8b6848"/>
<circle cx="798.50" cy="313.25" r="9.80" stroke="#222" stroke-width="1.1" fill="#fff"/>
<circle cx="798.50" cy="313.25" r="5.50" stroke="#223" stroke-width="1.1" fill="#fff"/>
<circle cx="798.50" cy="349.50" r="14.10" stroke="#151515" stroke-width="1.5" fill="#d6c1a5"/>
<circle cx="798.50" cy="349.50" r="9.80" stroke="#222" stroke-width="1.1" fill="#fff"/>
<circle cx="798.50" cy="349.50" r="5.50" stroke="#223" stroke-width="1.1" fill="#fff"/>
<rect x="330.20" y="307.60" width="11.40" height="11.40" rx="2.2" stroke="#111" stroke-width="2.2" fill="#fff"/>
<text x="333.03" y="316.86" font-size="9.9" font-weight="bold" textLength="5.75" lengthAdjust="spacingAndGlyphs" fill="#1a1a1a" stroke="#1a1a1a" stroke-width="0.15">L</text>
<rect x="330.20" y="344.30" width="11.40" height="11.40" rx="2.2" stroke="#111" stroke-width="2.2" fill="#fff"/>
<text x="332.50" y="353.56" font-size="9.9" font-weight="bold" textLength="6.79" lengthAdjust="spacingAndGlyphs" fill="#1a1a1a" stroke="#1a1a1a" stroke-width="0.15">R</text>
<text x="327.15" y="335.60" font-size="9.4" textLength="27.50" lengthAdjust="spacingAndGlyphs" fill="#1a1a1a" stroke="#1a1a1a" stroke-width="0.3">AUDIO</text>
<text x="289.00" y="375.60" font-size="8.2" font-weight="bold" textLength="21.00" lengthAdjust="spacingAndGlyphs" fill="#1a1a1a" stroke="#1a1a1a" stroke-width="0.15">MULTI</text>
<text x="292.75" y="385.30" font-size="8.6" font-weight="bold" textLength="13.50" lengthAdjust="spacingAndGlyphs" fill="#1a1a1a" stroke="#1a1a1a" stroke-width="0.15">OUT</text>
<text x="359.50" y="375.60" font-size="8.2" textLength="9.50" lengthAdjust="spacingAndGlyphs" fill="#1a1a1a" stroke="#1a1a1a" stroke-width="0.3">CD</text>
<text x="361.00" y="385.50" font-size="8.6" font-weight="bold" textLength="6.50" lengthAdjust="spacingAndGlyphs" fill="#1a1a1a" stroke="#1a1a1a" stroke-width="0.15">IN</text>
<text x="411.00" y="375.20" font-size="8.4" font-weight="bold" textLength="17.00" lengthAdjust="spacingAndGlyphs" fill="#1a1a1a" stroke="#1a1a1a" stroke-width="0.15">TAPE</text>
<text x="393.25" y="385.50" font-size="8.6" font-weight="bold" textLength="14.50" lengthAdjust="spacingAndGlyphs" fill="#1a1a1a" stroke="#1a1a1a" stroke-width="0.15">OUT</text>
<text x="433.25" y="385.50" font-size="8.6" font-weight="bold" textLength="6.50" lengthAdjust="spacingAndGlyphs" fill="#1a1a1a" stroke="#1a1a1a" stroke-width="0.15">IN</text>
<text x="463.50" y="375.20" font-size="8.2" textLength="18.00" lengthAdjust="spacingAndGlyphs" fill="#1a1a1a" stroke="#1a1a1a" stroke-width="0.3">VID 3</text>
<text x="469.25" y="385.50" font-size="8.6" font-weight="bold" textLength="6.50" lengthAdjust="spacingAndGlyphs" fill="#1a1a1a" stroke="#1a1a1a" stroke-width="0.15">IN</text>
<text x="518.50" y="375.20" font-size="8.2" textLength="18.00" lengthAdjust="spacingAndGlyphs" fill="#1a1a1a" stroke="#1a1a1a" stroke-width="0.3">VID 2</text>
<text x="503.25" y="385.50" font-size="8.6" font-weight="bold" textLength="14.50" lengthAdjust="spacingAndGlyphs" fill="#1a1a1a" stroke="#1a1a1a" stroke-width="0.15">OUT</text>
<text x="543.25" y="385.50" font-size="8.6" textLength="6.50" lengthAdjust="spacingAndGlyphs" fill="#1a1a1a" stroke="#1a1a1a" stroke-width="0.3">IN</text>
<text x="590.00" y="375.20" font-size="8.2" textLength="18.00" lengthAdjust="spacingAndGlyphs" fill="#1a1a1a" stroke="#1a1a1a" stroke-width="0.3">VID 1</text>
<text x="574.75" y="385.50" font-size="8.6" font-weight="bold" textLength="14.50" lengthAdjust="spacingAndGlyphs" fill="#1a1a1a" stroke="#1a1a1a" stroke-width="0.15">OUT</text>
<text x="614.75" y="385.50" font-size="8.6" textLength="6.50" lengthAdjust="spacingAndGlyphs" fill="#1a1a1a" stroke="#1a1a1a" stroke-width="0.3">IN</text>
<text x="646.50" y="375.20" font-size="8.2" textLength="14.00" lengthAdjust="spacingAndGlyphs" fill="#1a1a1a" stroke="#1a1a1a" stroke-width="0.3">DVD</text>
<text x="650.25" y="385.50" font-size="8.6" font-weight="bold" textLength="6.50" lengthAdjust="spacingAndGlyphs" fill="#1a1a1a" stroke="#1a1a1a" stroke-width="0.15">IN</text>
<text x="679.25" y="375.00" font-size="8.6" font-weight="bold" textLength="21.00" lengthAdjust="spacingAndGlyphs" fill="#1a1a1a" stroke="#1a1a1a" stroke-width="0.15">FL/FR</text>
<text x="715.00" y="375.00" font-size="8.2" textLength="22.00" lengthAdjust="spacingAndGlyphs" fill="#1a1a1a" stroke="#1a1a1a" stroke-width="0.3">SL/SR</text>
<text x="752.00" y="375.00" font-size="8.2" textLength="21.00" lengthAdjust="spacingAndGlyphs" fill="#1a1a1a" stroke="#1a1a1a" stroke-width="0.3">C/SW</text>
<text x="783.50" y="375.00" font-size="8.2" textLength="33.00" lengthAdjust="spacingAndGlyphs" fill="#1a1a1a" stroke="#1a1a1a" stroke-width="0.3">SBL/SBR</text>
<text x="719.00" y="386.30" font-size="8.2" font-weight="bold" textLength="14.00" lengthAdjust="spacingAndGlyphs" fill="#1a1a1a" stroke="#1a1a1a" stroke-width="0.15">6CH</text>
<path d="M688 379.5 L688 382.5 L713.5 382.5 M738.5 382.5 L763.5 382.5 L763.5 379.5" stroke="#222" stroke-width="1.1" fill="none"/>
<text x="792.75" y="386.30" font-size="8.2" font-weight="bold" textLength="14.00" lengthAdjust="spacingAndGlyphs" fill="#1a1a1a" stroke="#1a1a1a" stroke-width="0.15">8CH</text>
<path d="M785.25 379.5 L785.25 382.5 L789.75 382.5 M809.75 382.5 L814.25 382.5 L814.25 379.5" stroke="#222" stroke-width="1.1" fill="none"/>
<text x="721.75" y="397.20" font-size="11" textLength="46.00" lengthAdjust="spacingAndGlyphs" fill="#1a1a1a" stroke="#1a1a1a" stroke-width="0.3">DIRECT IN</text>
<text x="855.25" y="397.20" font-size="11" textLength="69.00" lengthAdjust="spacingAndGlyphs" fill="#1a1a1a" stroke="#1a1a1a" stroke-width="0.3">DIGITAL-INPUT</text>
<text x="980.00" y="387.60" font-size="11" textLength="36.00" lengthAdjust="spacingAndGlyphs" fill="#1a1a1a" stroke="#1a1a1a" stroke-width="0.3">DIGITAL</text>
<text x="979.50" y="397.20" font-size="11" textLength="37.00" lengthAdjust="spacingAndGlyphs" fill="#1a1a1a" stroke="#1a1a1a" stroke-width="0.3">OUTPUT</text>
<circle cx="834.75" cy="309.50" r="4.70" stroke="#111" stroke-width="1.5" fill="#fff"/>
<text x="832.86" y="312.40" font-size="8.0" font-weight="bold" textLength="3.78" lengthAdjust="spacingAndGlyphs" fill="#1a1a1a" stroke="#1a1a1a" stroke-width="0.45">1</text>
<circle cx="870.50" cy="309.50" r="4.70" stroke="#111" stroke-width="1.5" fill="#fff"/>
<text x="868.61" y="312.40" font-size="8.0" font-weight="bold" textLength="3.78" lengthAdjust="spacingAndGlyphs" fill="#1a1a1a" stroke="#1a1a1a" stroke-width="0.45">2</text>
<circle cx="905.25" cy="309.50" r="4.70" stroke="#111" stroke-width="1.5" fill="#fff"/>
<text x="903.36" y="312.40" font-size="8.0" font-weight="bold" textLength="3.78" lengthAdjust="spacingAndGlyphs" fill="#1a1a1a" stroke="#1a1a1a" stroke-width="0.45">1</text>
<circle cx="941.50" cy="309.50" r="4.70" stroke="#111" stroke-width="1.5" fill="#fff"/>
<text x="939.61" y="312.40" font-size="8.0" font-weight="bold" textLength="3.78" lengthAdjust="spacingAndGlyphs" fill="#1a1a1a" stroke="#1a1a1a" stroke-width="0.45">2</text>
<rect x="824.95" y="340.55" width="20.00" height="21.00" rx="0" stroke="#222" stroke-width="1.3" fill="#fff"/>
<path d="M827.75 343.55 L842.1500000000001 343.55 L842.1500000000001 354.85 L838.5500000000001 358.65 L831.35 358.65 L827.75 354.85 Z" stroke="#222" stroke-width="1.2" fill="#fff"/>
<circle cx="834.95" cy="350.45" r="4.60" stroke="#222" stroke-width="1.2" fill="#fff"/>
<rect x="860.70" y="340.55" width="20.00" height="21.00" rx="0" stroke="#222" stroke-width="1.3" fill="#fff"/>
<path d="M863.5 343.55 L877.9000000000001 343.55 L877.9000000000001 354.85 L874.3000000000001 358.65 L867.1 358.65 L863.5 354.85 Z" stroke="#222" stroke-width="1.2" fill="#fff"/>
<circle cx="870.70" cy="350.45" r="4.60" stroke="#222" stroke-width="1.2" fill="#fff"/>
<rect x="1005.60" y="340.55" width="20.00" height="21.00" rx="0" stroke="#222" stroke-width="1.3" fill="#fff"/>
<path d="M1008.4 343.55 L1022.8000000000001 343.55 L1022.8000000000001 354.85 L1019.2 358.65 L1012.0 358.65 L1008.4 354.85 Z" stroke="#222" stroke-width="1.2" fill="#fff"/>
<circle cx="1015.60" cy="350.45" r="4.60" stroke="#222" stroke-width="1.2" fill="#fff"/>
<circle cx="906.70" cy="349.50" r="12.90" stroke="#3a2a1a" stroke-width="1.3" fill="#e3a468"/>
<circle cx="906.70" cy="349.50" r="8.80" stroke="#3a2a1a" stroke-width="1.2" fill="#fff"/>
<circle cx="906.70" cy="349.50" r="5.60" stroke="#223" stroke-width="1.1" fill="#fff"/>
<circle cx="943.00" cy="349.50" r="12.90" stroke="#3a2a1a" stroke-width="1.3" fill="#e3a468"/>
<circle cx="943.00" cy="349.50" r="8.80" stroke="#3a2a1a" stroke-width="1.2" fill="#fff"/>
<circle cx="943.00" cy="349.50" r="5.60" stroke="#223" stroke-width="1.1" fill="#fff"/>
<circle cx="979.20" cy="349.50" r="12.90" stroke="#3a2a1a" stroke-width="1.3" fill="#e3a468"/>
<circle cx="979.20" cy="349.50" r="8.80" stroke="#3a2a1a" stroke-width="1.2" fill="#fff"/>
<circle cx="979.20" cy="349.50" r="5.60" stroke="#223" stroke-width="1.1" fill="#fff"/>
<text x="833.20" y="380.20" font-size="8.5" font-weight="bold" textLength="42.00" lengthAdjust="spacingAndGlyphs" fill="#1a1a1a" stroke="#1a1a1a" stroke-width="0.15">OPTICAL-IN</text>
<text x="902.00" y="380.20" font-size="8.5" font-weight="bold" textLength="43.20" lengthAdjust="spacingAndGlyphs" fill="#1a1a1a" stroke="#1a1a1a" stroke-width="0.15">COAXIAL-IN</text>
<text x="963.25" y="312.60" font-size="8.4" textLength="33.00" lengthAdjust="spacingAndGlyphs" fill="#1a1a1a" stroke="#1a1a1a" stroke-width="0.3">COAXIAL</text>
<text x="1000.50" y="312.60" font-size="8.4" textLength="31.00" lengthAdjust="spacingAndGlyphs" fill="#1a1a1a" stroke="#1a1a1a" stroke-width="0.3">OPTICAL</text>
<text x="1127.75" y="241.30" font-size="8.8" textLength="35.00" lengthAdjust="spacingAndGlyphs" fill="#1a1a1a" stroke="#1a1a1a" stroke-width="0.3">AC INPUT</text>
<text x="1105.75" y="248.60" font-size="7.0" font-weight="bold" textLength="57.00" lengthAdjust="spacingAndGlyphs" fill="#1a1a1a" stroke="#1a1a1a" stroke-width="0.15">~120V/60Hz  350W</text>
<rect x="1068.50" y="255.00" width="93.50" height="141.25" rx="3" stroke="#333" stroke-width="1.3" fill="none"/>
<rect x="1082.00" y="252.00" width="67.50" height="6.00" rx="0" stroke="none" stroke-width="0" fill="#fff"/>
<text x="1083.75" y="259.00" font-size="11.6" textLength="64.00" lengthAdjust="spacingAndGlyphs" fill="#1a1a1a" stroke="#1a1a1a" stroke-width="0.3">AC OUTLETS</text>
<text x="1093.75" y="266.40" font-size="7.2" font-weight="bold" textLength="44.00" lengthAdjust="spacingAndGlyphs" fill="#1a1a1a" stroke="#1a1a1a" stroke-width="0.15">(~120V/60Hz)</text>
<text x="1090.75" y="276.40" font-size="8.2" font-weight="bold" textLength="50.00" lengthAdjust="spacingAndGlyphs" fill="#1a1a1a" stroke="#1a1a1a" stroke-width="0.15">UNSWITCHED</text>
<text x="1096.75" y="283.90" font-size="7.0" font-weight="bold" textLength="38.00" lengthAdjust="spacingAndGlyphs" fill="#1a1a1a" stroke="#1a1a1a" stroke-width="0.15">(100W MAX)</text>
<rect x="1091.50" y="288.00" width="49.25" height="31.25" rx="3.5" stroke="#222" stroke-width="1.3" fill="#fff"/>
<rect x="1100.25" y="295.00" width="9.25" height="16.50" rx="0" stroke="#111" stroke-width="1.3" fill="#fff"/>
<rect x="1125.25" y="296.00" width="8.25" height="14.50" rx="0" stroke="#111" stroke-width="1.3" fill="#fff"/>
<rect x="1091.50" y="340.00" width="49.25" height="31.25" rx="3.5" stroke="#222" stroke-width="1.3" fill="#fff"/>
<rect x="1100.25" y="347.00" width="9.25" height="16.50" rx="0" stroke="#111" stroke-width="1.3" fill="#fff"/>
<rect x="1125.25" y="348.00" width="8.25" height="14.50" rx="0" stroke="#111" stroke-width="1.3" fill="#fff"/>
<line x1="1100.25" y1="311.90" x2="1109.50" y2="311.90" stroke="#111" stroke-width="2.0"/>
<line x1="1100.25" y1="346.60" x2="1109.50" y2="346.60" stroke="#111" stroke-width="2.0"/>
<text x="1095.25" y="385.20" font-size="8.4" font-weight="bold" textLength="41.00" lengthAdjust="spacingAndGlyphs" fill="#1a1a1a" stroke="#1a1a1a" stroke-width="0.15">SWITCHED</text>
<text x="1097.25" y="392.60" font-size="7.0" font-weight="bold" textLength="37.00" lengthAdjust="spacingAndGlyphs" fill="#1a1a1a" stroke="#1a1a1a" stroke-width="0.15">(50W MAX)</text>
<rect x="1176.30" y="231.00" width="29.40" height="22.40" rx="4" stroke="#111" stroke-width="1.6" fill="#fff"/>
<path d="M1205.7 240 Q1208.5 240 1208.5 242 Q1208.5 244 1205.7 244" stroke="#111" stroke-width="1.4" fill="#fff"/>
<rect x="1180.80" y="233.30" width="20.00" height="16.30" rx="3.5" stroke="#111" stroke-width="1.3" fill="#fff"/>
<path d="M1184 250 L1183.5 240 Q1183.5 235.6 1186.5 235.6 Q1189.3 235.6 1189.4 240 Q1189.6 235.6 1192.2 235.6 Q1194.8 235.6 1195 240 L1195.6 247 Q1196.5 253 1198 256 Q1192 262.5 1188 260 Q1185 255 1184 250 Z" stroke="#111" stroke-width="1.3" fill="#fff"/>
<path d="M1189.4 240 L1189.8 247 Q1190.5 255 1194 259" stroke="#111" stroke-width="1.3" fill="none"/>
<path d="M1182.5 257 Q1186 260.5 1189 260.5" stroke="#111" stroke-width="1.3" fill="none"/>
<path d="M1198 255.5 Q1202 255.5 1204.5 259.5" stroke="#111" stroke-width="1.3" fill="none"/>
<rect x="1245.75" y="243.25" width="104.00" height="25.00" rx="3" stroke="#222" stroke-width="1.3" fill="none"/>
<rect x="1186.50" y="270.50" width="163.25" height="57.00" rx="3" stroke="#222" stroke-width="1.3" fill="none"/>
<path d="M1223.5 329.5 L1238.25 354.5 L1209 354.5 Z" stroke="none" stroke-width="0" fill="#111"/>
<path d="M1225.6 334.5 L1220.8 344.6 L1223.8 344 L1222.3 352 L1227 341 L1223.9 341.6 Z" stroke="#fff" stroke-width="0.4" fill="#fff"/>
<path d="M1333.25 329.5 L1347.75 354.5 L1318.5 354.5 Z" stroke="none" stroke-width="0" fill="#111"/>
<path d="M1332.0 334.8 L1334.5 334.8 L1334.0 347.6 L1332.5 347.6 Z" stroke="none" stroke-width="0" fill="#fff"/>
<circle cx="1333.25" cy="350.60" r="1.15" stroke="none" stroke-width="0" fill="#fff"/>
<rect x="1239.00" y="330.00" width="78.75" height="24.50" rx="0" stroke="none" stroke-width="0" fill="#111"/>
<rect x="1240.20" y="331.00" width="76.30" height="10.20" rx="0" stroke="none" stroke-width="0" fill="#fff"/>
<text x="1256.65" y="339.90" font-size="11" textLength="43.50" lengthAdjust="spacingAndGlyphs" fill="#1a1a1a" stroke="#1a1a1a" stroke-width="0.3">CAUTION</text>
<text x="1245.90" y="347.30" font-size="5.8" font-weight="bold" textLength="65.00" lengthAdjust="spacingAndGlyphs" fill="#fff" stroke="#fff" stroke-width="0.15">RISK OF ELECTRIC SHOCK</text>
<text x="1260.40" y="353.30" font-size="5.6" font-weight="bold" textLength="36.00" lengthAdjust="spacingAndGlyphs" fill="#fff" stroke="#fff" stroke-width="0.15">DO NOT OPEN</text>
<text x="288.00" y="400.30" font-size="6.4" font-weight="bold" textLength="25.00" lengthAdjust="spacingAndGlyphs" fill="#1a1a1a" stroke="#1a1a1a" stroke-width="0.15">E218010</text>
<circle cx="300.70" cy="416.10" r="12.90" stroke="#111" stroke-width="1.7" fill="#fff"/>
<text x="293.10" y="420.70" font-size="17" font-weight="bold" textLength="7.20" lengthAdjust="spacingAndGlyphs" fill="#1a1a1a" stroke="#1a1a1a" stroke-width="0.5">U</text>
<text x="301.70" y="423.50" font-size="15.3" font-weight="bold" textLength="6.40" lengthAdjust="spacingAndGlyphs" fill="#1a1a1a" stroke="#1a1a1a" stroke-width="0.5">L</text>
<circle cx="296.90" cy="423.20" r="1.20" stroke="none" stroke-width="0" fill="#444"/>
<text x="281.10" y="423.80" font-size="8" textLength="4.40" lengthAdjust="spacingAndGlyphs" fill="#1a1a1a" stroke="#1a1a1a" stroke-width="0.3">C</text>
<text x="315.60" y="423.80" font-size="8" textLength="7.80" lengthAdjust="spacingAndGlyphs" fill="#1a1a1a" stroke="#1a1a1a" stroke-width="0.3">US</text>
<text x="288.00" y="437.70" font-size="8.6" font-weight="bold" textLength="25.00" lengthAdjust="spacingAndGlyphs" fill="#1a1a1a" stroke="#1a1a1a" stroke-width="0.15">LISTED</text>
<text x="292.15" y="444.60" font-size="7.2" font-weight="bold" textLength="16.50" lengthAdjust="spacingAndGlyphs" fill="#1a1a1a" stroke="#1a1a1a" stroke-width="0.15">9H74</text>
<text x="289.90" y="452.30" font-size="7.4" font-weight="bold" textLength="21.00" lengthAdjust="spacingAndGlyphs" fill="#1a1a1a" stroke="#1a1a1a" stroke-width="0.15">AUDIO</text>
<text x="281.05" y="460.30" font-size="7.6" font-weight="bold" textLength="39.50" lengthAdjust="spacingAndGlyphs" fill="#1a1a1a" stroke="#1a1a1a" stroke-width="0.15">EQUIPMENT</text>
<rect x="346.20" y="405.20" width="111.20" height="41.80" rx="3.5" stroke="#333" stroke-width="1.3" fill="none"/>
<line x1="385.30" y1="405.20" x2="385.30" y2="447.00" stroke="#333" stroke-width="1.3"/>
<rect x="352.20" y="402.00" width="29.80" height="7.00" rx="0" stroke="none" stroke-width="0" fill="#fff"/>
<rect x="401.60" y="402.00" width="38.80" height="7.00" rx="0" stroke="none" stroke-width="0" fill="#fff"/>
<text x="353.20" y="409.20" font-size="10.2" textLength="28.20" lengthAdjust="spacingAndGlyphs" fill="#1a1a1a" stroke="#1a1a1a" stroke-width="0.3">MULTI</text>
<text x="402.40" y="409.20" font-size="10.2" textLength="37.20" lengthAdjust="spacingAndGlyphs" fill="#1a1a1a" stroke="#1a1a1a" stroke-width="0.3">REMOTE</text>
<circle cx="367.80" cy="426.60" r="8.60" stroke="#222" stroke-width="1.2" fill="#fff"/>
<circle cx="401.80" cy="426.60" r="8.60" stroke="#222" stroke-width="1.2" fill="#fff"/>
<circle cx="435.00" cy="426.60" r="8.60" stroke="#222" stroke-width="1.2" fill="#fff"/>
<text x="364.25" y="445.30" font-size="8.6" font-weight="bold" textLength="6.50" lengthAdjust="spacingAndGlyphs" fill="#1a1a1a" stroke="#1a1a1a" stroke-width="0.15">IN</text>
<text x="398.25" y="445.30" font-size="8.6" textLength="6.50" lengthAdjust="spacingAndGlyphs" fill="#1a1a1a" stroke="#1a1a1a" stroke-width="0.3">IN</text>
<text x="428.25" y="445.30" font-size="8.6" font-weight="bold" textLength="14.50" lengthAdjust="spacingAndGlyphs" fill="#1a1a1a" stroke="#1a1a1a" stroke-width="0.15">OUT</text>
<rect x="323.25" y="462.50" width="151.00" height="101.25" rx="3" stroke="#333" stroke-width="1.3" fill="none"/>
<rect x="378.00" y="459.50" width="43.00" height="6.00" rx="0" stroke="none" stroke-width="0" fill="#fff"/>
<text x="380.75" y="465.00" font-size="9.6" textLength="37.50" lengthAdjust="spacingAndGlyphs" fill="#1a1a1a" stroke="#1a1a1a" stroke-width="0.3">PRE-OUT</text>
<line x1="363.00" y1="477.50" x2="363.00" y2="547.50" stroke="#222" stroke-width="1.5"/>
<line x1="399.25" y1="477.50" x2="399.25" y2="547.50" stroke="#222" stroke-width="1.5"/>
<line x1="435.50" y1="477.50" x2="435.50" y2="547.50" stroke="#222" stroke-width="1.5"/>
<circle cx="344.50" cy="494.25" r="14.10" stroke="#1a1a1a" stroke-width="1.1" fill="#fff"/>
<circle cx="344.50" cy="494.25" r="10.20" stroke="#1a1a1a" stroke-width="1.1" fill="#fff"/>
<circle cx="344.50" cy="494.25" r="5.50" stroke="#223" stroke-width="1.1" fill="#fff"/>
<circle cx="344.50" cy="530.50" r="14.10" stroke="#151515" stroke-width="1.5" fill="#c93f3c"/>
<circle cx="344.50" cy="530.50" r="9.80" stroke="#222" stroke-width="1.1" fill="#fff"/>
<circle cx="344.50" cy="530.50" r="5.50" stroke="#223" stroke-width="1.1" fill="#fff"/>
<circle cx="380.75" cy="494.25" r="14.10" stroke="#151515" stroke-width="1.5" fill="#2a8bc2"/>
<circle cx="380.75" cy="494.25" r="9.80" stroke="#222" stroke-width="1.1" fill="#fff"/>
<circle cx="380.75" cy="494.25" r="5.50" stroke="#223" stroke-width="1.1" fill="#fff"/>
<circle cx="380.75" cy="530.50" r="14.10" stroke="#151515" stroke-width="1.5" fill="#a19e9b"/>
<circle cx="380.75" cy="530.50" r="9.80" stroke="#222" stroke-width="1.1" fill="#fff"/>
<circle cx="380.75" cy="530.50" r="5.50" stroke="#223" stroke-width="1.1" fill="#fff"/>
<circle cx="417.00" cy="494.25" r="14.10" stroke="#151515" stroke-width="1.5" fill="#2f9b59"/>
<circle cx="417.00" cy="494.25" r="9.80" stroke="#222" stroke-width="1.1" fill="#fff"/>
<circle cx="417.00" cy="494.25" r="5.50" stroke="#223" stroke-width="1.1" fill="#fff"/>
<circle cx="417.00" cy="530.50" r="14.10" stroke="#151515" stroke-width="1.5" fill="#8a6eae"/>
<circle cx="417.00" cy="530.50" r="9.80" stroke="#222" stroke-width="1.1" fill="#fff"/>
<circle cx="417.00" cy="530.50" r="5.50" stroke="#223" stroke-width="1.1" fill="#fff"/>
<circle cx="453.25" cy="494.25" r="14.10" stroke="#151515" stroke-width="1.5" fill="#8b6848"/>
<circle cx="453.25" cy="494.25" r="9.80" stroke="#222" stroke-width="1.1" fill="#fff"/>
<circle cx="453.25" cy="494.25" r="5.50" stroke="#223" stroke-width="1.1" fill="#fff"/>
<circle cx="453.25" cy="530.50" r="14.10" stroke="#151515" stroke-width="1.5" fill="#d6c1a5"/>
<circle cx="453.25" cy="530.50" r="9.80" stroke="#222" stroke-width="1.1" fill="#fff"/>
<circle cx="453.25" cy="530.50" r="5.50" stroke="#223" stroke-width="1.1" fill="#fff"/>
<text x="341.75" y="474.50" font-size="8.6" font-weight="bold" textLength="7.50" lengthAdjust="spacingAndGlyphs" fill="#1a1a1a" stroke="#1a1a1a" stroke-width="0.15">FL</text>
<text x="377.25" y="474.50" font-size="8.6" textLength="9.00" lengthAdjust="spacingAndGlyphs" fill="#1a1a1a" stroke="#1a1a1a" stroke-width="0.3">SL</text>
<text x="403.30" y="474.50" font-size="8.4" textLength="28.00" lengthAdjust="spacingAndGlyphs" fill="#1a1a1a" stroke="#1a1a1a" stroke-width="0.3">CENTER</text>
<text x="446.50" y="474.50" font-size="8.6" textLength="14.50" lengthAdjust="spacingAndGlyphs" fill="#1a1a1a" stroke="#1a1a1a" stroke-width="0.3">SBL</text>
<text x="341.50" y="556.80" font-size="8.6" font-weight="bold" textLength="8.00" lengthAdjust="spacingAndGlyphs" fill="#1a1a1a" stroke="#1a1a1a" stroke-width="0.15">FR</text>
<text x="376.50" y="556.80" font-size="8.6" textLength="9.50" lengthAdjust="spacingAndGlyphs" fill="#1a1a1a" stroke="#1a1a1a" stroke-width="0.3">SR</text>
<text x="410.00" y="555.00" font-size="8.0" textLength="14.00" lengthAdjust="spacingAndGlyphs" fill="#1a1a1a" stroke="#1a1a1a" stroke-width="0.3">SUB</text>
<text x="401.50" y="562.80" font-size="8.0" textLength="31.00" lengthAdjust="spacingAndGlyphs" fill="#1a1a1a" stroke="#1a1a1a" stroke-width="0.3">WOOFER</text>
<text x="446.50" y="556.80" font-size="8.6" textLength="14.50" lengthAdjust="spacingAndGlyphs" fill="#1a1a1a" stroke="#1a1a1a" stroke-width="0.3">SBR</text>
<rect x="483.10" y="399.10" width="41.60" height="5.00" rx="2.5" stroke="#222" stroke-width="1.2" fill="#fff"/>
<rect x="483.10" y="411.90" width="41.60" height="5.00" rx="2.5" stroke="#222" stroke-width="1.2" fill="#fff"/>
<rect x="483.10" y="424.90" width="41.60" height="5.00" rx="2.5" stroke="#222" stroke-width="1.2" fill="#fff"/>
<rect x="483.10" y="437.70" width="41.60" height="5.00" rx="2.5" stroke="#222" stroke-width="1.2" fill="#fff"/>
<rect x="483.10" y="450.80" width="41.60" height="5.00" rx="2.5" stroke="#222" stroke-width="1.2" fill="#fff"/>
<rect x="483.10" y="502.50" width="41.60" height="5.00" rx="2.5" stroke="#222" stroke-width="1.2" fill="#fff"/>
<rect x="483.10" y="515.50" width="41.60" height="5.00" rx="2.5" stroke="#222" stroke-width="1.2" fill="#fff"/>
<rect x="483.10" y="528.25" width="41.60" height="5.00" rx="2.5" stroke="#222" stroke-width="1.2" fill="#fff"/>
<rect x="483.10" y="541.25" width="41.60" height="5.00" rx="2.5" stroke="#222" stroke-width="1.2" fill="#fff"/>
<rect x="485.40" y="472.90" width="36.80" height="3.00" rx="0" stroke="#333" stroke-width="1.1" fill="#fff"/>
<rect x="485.40" y="482.95" width="36.80" height="2.50" rx="0" stroke="#333" stroke-width="1.1" fill="#fff"/>
<rect x="530.00" y="405.30" width="358.50" height="158.90" rx="3" stroke="#333" stroke-width="1.3" fill="none"/>
<rect x="669.00" y="402.00" width="84.00" height="6.50" rx="0" stroke="none" stroke-width="0" fill="#fff"/>
<text x="671.50" y="411.40" font-size="12" textLength="79.00" lengthAdjust="spacingAndGlyphs" fill="#1a1a1a" stroke="#1a1a1a" stroke-width="0.3">SPEAKERS (8 Ω)</text>
<line x1="579.50" y1="433.70" x2="579.50" y2="562.50" stroke="#222" stroke-width="1.4"/>
<line x1="677.40" y1="433.70" x2="677.40" y2="562.50" stroke="#222" stroke-width="1.4"/>
<line x1="775.60" y1="433.70" x2="775.60" y2="562.50" stroke="#222" stroke-width="1.4"/>
<line x1="629.30" y1="416.50" x2="629.30" y2="562.50" stroke="#111" stroke-width="1.6"/>
<line x1="726.80" y1="416.50" x2="726.80" y2="562.50" stroke="#111" stroke-width="1.6"/>
<line x1="824.30" y1="416.50" x2="824.30" y2="562.50" stroke="#111" stroke-width="1.6"/>
<circle cx="554.00" cy="453.20" r="17.40" stroke="#111" stroke-width="1.4" fill="#e0413a"/>
<circle cx="554.00" cy="453.20" r="10.20" stroke="#111" stroke-width="1.3" fill="#fff"/>
<circle cx="554.00" cy="517.60" r="17.50" stroke="#222" stroke-width="1.2" fill="#fff"/>
<circle cx="554.00" cy="517.60" r="10.60" stroke="#222" stroke-width="1.2" fill="#fff"/>
<circle cx="603.30" cy="453.20" r="17.50" stroke="#222" stroke-width="1.2" fill="#fff"/>
<circle cx="603.30" cy="453.20" r="11.00" stroke="#222" stroke-width="1.2" fill="#fff"/>
<circle cx="603.30" cy="517.60" r="17.50" stroke="#222" stroke-width="1.2" fill="#fff"/>
<circle cx="603.30" cy="517.60" r="10.60" stroke="#222" stroke-width="1.2" fill="#fff"/>
<circle cx="652.30" cy="453.20" r="17.40" stroke="#111" stroke-width="1.4" fill="#d8bd93"/>
<circle cx="652.30" cy="453.20" r="10.20" stroke="#111" stroke-width="1.3" fill="#fff"/>
<circle cx="652.30" cy="517.60" r="17.50" stroke="#222" stroke-width="1.2" fill="#fff"/>
<circle cx="652.30" cy="517.60" r="10.60" stroke="#222" stroke-width="1.2" fill="#fff"/>
<circle cx="701.50" cy="453.20" r="17.40" stroke="#111" stroke-width="1.4" fill="#8f6536"/>
<circle cx="701.50" cy="453.20" r="10.20" stroke="#111" stroke-width="1.3" fill="#fff"/>
<circle cx="701.50" cy="517.60" r="17.50" stroke="#222" stroke-width="1.2" fill="#fff"/>
<circle cx="701.50" cy="517.60" r="10.60" stroke="#222" stroke-width="1.2" fill="#fff"/>
<circle cx="750.40" cy="453.20" r="17.40" stroke="#111" stroke-width="1.4" fill="#a9a39d"/>
<circle cx="750.40" cy="453.20" r="10.20" stroke="#111" stroke-width="1.3" fill="#fff"/>
<circle cx="750.40" cy="517.60" r="17.50" stroke="#222" stroke-width="1.2" fill="#fff"/>
<circle cx="750.40" cy="517.60" r="10.60" stroke="#222" stroke-width="1.2" fill="#fff"/>
<circle cx="799.70" cy="453.20" r="17.40" stroke="#111" stroke-width="1.4" fill="#1f8fd1"/>
<circle cx="799.70" cy="453.20" r="10.20" stroke="#111" stroke-width="1.3" fill="#fff"/>
<circle cx="799.70" cy="517.60" r="17.50" stroke="#222" stroke-width="1.2" fill="#fff"/>
<circle cx="799.70" cy="517.60" r="10.60" stroke="#222" stroke-width="1.2" fill="#fff"/>
<circle cx="848.60" cy="453.20" r="17.40" stroke="#111" stroke-width="1.4" fill="#2fa551"/>
<circle cx="848.60" cy="453.20" r="10.20" stroke="#111" stroke-width="1.3" fill="#fff"/>
<circle cx="848.60" cy="517.60" r="17.50" stroke="#222" stroke-width="1.2" fill="#fff"/>
<circle cx="848.60" cy="517.60" r="10.60" stroke="#222" stroke-width="1.2" fill="#fff"/>
<text x="566.50" y="427.40" font-size="8.4" font-weight="bold" textLength="27.00" lengthAdjust="spacingAndGlyphs" fill="#1a1a1a" stroke="#1a1a1a" stroke-width="0.15">FRONT</text>
<text x="660.75" y="427.20" font-size="8.2" textLength="43.00" lengthAdjust="spacingAndGlyphs" fill="#1a1a1a" stroke="#1a1a1a" stroke-width="0.3">SB / MULTI</text>
<text x="753.00" y="427.20" font-size="8.2" textLength="46.00" lengthAdjust="spacingAndGlyphs" fill="#1a1a1a" stroke="#1a1a1a" stroke-width="0.3">SURROUND</text>
<text x="834.00" y="427.20" font-size="8.4" font-weight="bold" textLength="30.50" lengthAdjust="spacingAndGlyphs" fill="#1a1a1a" stroke="#1a1a1a" stroke-width="0.15">CENTER</text>
<text x="834.00" y="555.20" font-size="8.4" font-weight="bold" textLength="30.50" lengthAdjust="spacingAndGlyphs" fill="#1a1a1a" stroke="#1a1a1a" stroke-width="0.15">CENTER</text>
<rect x="548.60" y="545.60" width="12.00" height="12.00" rx="2.2" stroke="#111" stroke-width="1.5" fill="#fff"/>
<text x="551.17" y="555.20" font-size="10" font-weight="bold" textLength="6.86" lengthAdjust="spacingAndGlyphs" fill="#1a1a1a" stroke="#1a1a1a" stroke-width="0.15">R</text>
<rect x="597.90" y="545.60" width="12.00" height="12.00" rx="2.2" stroke="#111" stroke-width="1.5" fill="#fff"/>
<text x="601.00" y="555.20" font-size="10" font-weight="bold" textLength="5.80" lengthAdjust="spacingAndGlyphs" fill="#1a1a1a" stroke="#1a1a1a" stroke-width="0.15">L</text>
<rect x="646.90" y="545.60" width="12.00" height="12.00" rx="2.2" stroke="#111" stroke-width="1.5" fill="#fff"/>
<text x="649.47" y="555.20" font-size="10" font-weight="bold" textLength="6.86" lengthAdjust="spacingAndGlyphs" fill="#1a1a1a" stroke="#1a1a1a" stroke-width="0.15">R</text>
<rect x="696.10" y="545.60" width="12.00" height="12.00" rx="2.2" stroke="#111" stroke-width="1.5" fill="#fff"/>
<text x="699.20" y="555.20" font-size="10" font-weight="bold" textLength="5.80" lengthAdjust="spacingAndGlyphs" fill="#1a1a1a" stroke="#1a1a1a" stroke-width="0.15">L</text>
<rect x="745.00" y="545.60" width="12.00" height="12.00" rx="2.2" stroke="#111" stroke-width="1.5" fill="#fff"/>
<text x="747.57" y="555.20" font-size="10" font-weight="bold" textLength="6.86" lengthAdjust="spacingAndGlyphs" fill="#1a1a1a" stroke="#1a1a1a" stroke-width="0.15">R</text>
<rect x="794.30" y="545.60" width="12.00" height="12.00" rx="2.2" stroke="#111" stroke-width="1.5" fill="#fff"/>
<text x="797.40" y="555.20" font-size="10" font-weight="bold" textLength="5.80" lengthAdjust="spacingAndGlyphs" fill="#1a1a1a" stroke="#1a1a1a" stroke-width="0.15">L</text>
<circle cx="878.00" cy="452.50" r="6.80" stroke="#222" stroke-width="1.2" fill="#fff"/>
<path d="M873.6 452.5 L882.4 452.5 M878 448.1 L878 456.9" stroke="#222" stroke-width="1.4" fill="none"/>
<circle cx="878.00" cy="519.50" r="6.80" stroke="#222" stroke-width="1.2" fill="#fff"/>
<path d="M873.6 519.5 L882.4 519.5" stroke="#222" stroke-width="1.6" fill="none"/>
<rect x="914.75" y="405.30" width="138.00" height="158.90" rx="3" stroke="#333" stroke-width="1.3" fill="none"/>
<rect x="932.00" y="402.00" width="108.00" height="6.50" rx="0" stroke="none" stroke-width="0" fill="#fff"/>
<text x="934.50" y="411.40" font-size="11.2" textLength="103.00" lengthAdjust="spacingAndGlyphs" fill="#1a1a1a" stroke="#1a1a1a" stroke-width="0.3">COMPONENT VIDEO</text>
<line x1="959.75" y1="421.25" x2="959.75" y2="552.50" stroke="#333" stroke-width="1.2"/>
<line x1="999.25" y1="421.25" x2="999.25" y2="552.50" stroke="#333" stroke-width="1.2"/>
<line x1="1036.50" y1="421.25" x2="1036.50" y2="535.50" stroke="#333" stroke-width="1.2"/>
<line x1="921.75" y1="455.50" x2="1050.75" y2="455.50" stroke="#333" stroke-width="1.2"/>
<line x1="921.75" y1="492.00" x2="1050.75" y2="492.00" stroke="#333" stroke-width="1.2"/>
<line x1="921.75" y1="535.75" x2="1036.50" y2="535.75" stroke="#333" stroke-width="1.2"/>
<circle cx="940.50" cy="437.80" r="14.00" stroke="#151515" stroke-width="1.4" fill="#3a9c58"/>
<circle cx="940.50" cy="437.80" r="8.80" stroke="#151515" stroke-width="1.2" fill="#fff"/>
<circle cx="940.50" cy="437.80" r="5.10" stroke="#223" stroke-width="1.1" fill="#fff"/>
<circle cx="940.50" cy="474.00" r="14.00" stroke="#151515" stroke-width="1.4" fill="#2a8bc2"/>
<circle cx="940.50" cy="474.00" r="8.80" stroke="#151515" stroke-width="1.2" fill="#fff"/>
<circle cx="940.50" cy="474.00" r="5.10" stroke="#223" stroke-width="1.1" fill="#fff"/>
<circle cx="940.50" cy="510.30" r="14.00" stroke="#151515" stroke-width="1.4" fill="#d8423c"/>
<circle cx="940.50" cy="510.30" r="8.80" stroke="#151515" stroke-width="1.2" fill="#fff"/>
<circle cx="940.50" cy="510.30" r="5.10" stroke="#223" stroke-width="1.1" fill="#fff"/>
<circle cx="979.30" cy="437.80" r="14.00" stroke="#151515" stroke-width="1.4" fill="#3a9c58"/>
<circle cx="979.30" cy="437.80" r="8.80" stroke="#151515" stroke-width="1.2" fill="#fff"/>
<circle cx="979.30" cy="437.80" r="5.10" stroke="#223" stroke-width="1.1" fill="#fff"/>
<circle cx="979.30" cy="474.00" r="14.00" stroke="#151515" stroke-width="1.4" fill="#2a8bc2"/>
<circle cx="979.30" cy="474.00" r="8.80" stroke="#151515" stroke-width="1.2" fill="#fff"/>
<circle cx="979.30" cy="474.00" r="5.10" stroke="#223" stroke-width="1.1" fill="#fff"/>
<circle cx="979.30" cy="510.30" r="14.00" stroke="#151515" stroke-width="1.4" fill="#d8423c"/>
<circle cx="979.30" cy="510.30" r="8.80" stroke="#151515" stroke-width="1.2" fill="#fff"/>
<circle cx="979.30" cy="510.30" r="5.10" stroke="#223" stroke-width="1.1" fill="#fff"/>
<circle cx="1018.20" cy="437.80" r="14.00" stroke="#151515" stroke-width="1.4" fill="#3a9c58"/>
<circle cx="1018.20" cy="437.80" r="8.80" stroke="#151515" stroke-width="1.2" fill="#fff"/>
<circle cx="1018.20" cy="437.80" r="5.10" stroke="#223" stroke-width="1.1" fill="#fff"/>
<circle cx="1018.20" cy="474.00" r="14.00" stroke="#151515" stroke-width="1.4" fill="#2a8bc2"/>
<circle cx="1018.20" cy="474.00" r="8.80" stroke="#151515" stroke-width="1.2" fill="#fff"/>
<circle cx="1018.20" cy="474.00" r="5.10" stroke="#223" stroke-width="1.1" fill="#fff"/>
<circle cx="1018.20" cy="510.30" r="14.00" stroke="#151515" stroke-width="1.4" fill="#d8423c"/>
<circle cx="1018.20" cy="510.30" r="8.80" stroke="#151515" stroke-width="1.2" fill="#fff"/>
<circle cx="1018.20" cy="510.30" r="5.10" stroke="#223" stroke-width="1.1" fill="#fff"/>
<text x="1042.30" y="440.80" font-size="7.4" font-weight="bold" textLength="4.60" lengthAdjust="spacingAndGlyphs" fill="#1a1a1a" stroke="#1a1a1a" stroke-width="0.15">Y</text>
<text x="1040.50" y="476.30" font-size="7.4" font-weight="bold" textLength="8.50" lengthAdjust="spacingAndGlyphs" fill="#1a1a1a" stroke="#1a1a1a" stroke-width="0.15">Pb</text>
<text x="1041.00" y="515.00" font-size="7.4" font-weight="bold" textLength="7.50" lengthAdjust="spacingAndGlyphs" fill="#1a1a1a" stroke="#1a1a1a" stroke-width="0.15">Pr</text>
<text x="930.70" y="547.20" font-size="7.8" font-weight="bold" textLength="17.00" lengthAdjust="spacingAndGlyphs" fill="#1a1a1a" stroke="#1a1a1a" stroke-width="0.15">VID2</text>
<text x="970.90" y="547.20" font-size="7.8" font-weight="bold" textLength="15.00" lengthAdjust="spacingAndGlyphs" fill="#1a1a1a" stroke="#1a1a1a" stroke-width="0.15">DVD</text>
<text x="1008.30" y="547.20" font-size="7.8" font-weight="bold" textLength="20.00" lengthAdjust="spacingAndGlyphs" fill="#1a1a1a" stroke="#1a1a1a" stroke-width="0.15">MON.</text>
<path d="M1224.41 456.40 L1224.30 456.03 L1224.28 455.65 L1224.36 455.27 L1224.53 454.92 L1224.77 454.61 L1225.08 454.38 L1241.10 445.13 L1241.51 444.97 L1241.95 444.92 L1242.38 444.99 L1242.78 445.19 L1243.11 445.48 L1243.35 445.85 L1243.70 446.61 L1243.71 446.63 L1244.22 447.80 L1244.23 447.82 L1244.73 448.99 L1244.74 449.02 L1245.22 450.20 L1245.23 450.22 L1245.68 451.41 L1245.69 451.43 L1246.10 452.56 L1246.20 453.11 L1246.20 472.60 L1246.15 473.01 L1245.99 473.40 L1245.73 473.73 L1245.40 473.99 L1245.01 474.15 L1244.60 474.20 L1230.39 474.20 L1230.01 474.15 L1229.64 474.01 L1229.33 473.79 L1229.07 473.50 L1228.89 473.16 L1228.80 472.78 L1228.78 472.56 L1228.77 472.55 L1228.67 471.74 L1228.67 471.73 L1228.55 470.92 L1228.55 470.91 L1228.42 470.10 L1228.42 470.09 L1228.28 469.29 L1228.28 469.27 L1228.13 468.47 L1228.13 468.46 L1227.97 467.66 L1227.97 467.65 L1227.80 466.85 L1227.79 466.84 L1227.61 466.04 L1227.61 466.03 L1227.41 465.24 L1227.41 465.23 L1227.20 464.44 L1227.20 464.43 L1226.98 463.64 L1226.98 463.63 L1226.75 462.85 L1226.75 462.83 L1226.51 462.05 L1226.51 462.04 L1226.26 461.27 L1226.25 461.26 L1225.99 460.48 L1225.99 460.47 L1225.72 459.70 L1225.71 459.69 L1225.43 458.92 L1225.43 458.91 L1225.13 458.15 L1225.13 458.14 L1224.83 457.38 L1224.82 457.37 L1224.51 456.62 L1224.50 456.61 L1224.41 456.40 Z" stroke="#2c2c2c" stroke-width="1.3" fill="#fff" stroke-linejoin="round"/>
<path d="M1205.61 432.61 L1205.32 432.34 L1205.12 432.01 L1204.99 431.65 L1204.96 431.26 L1205.02 430.88 L1205.17 430.52 L1214.42 414.50 L1214.69 414.15 L1215.05 413.89 L1215.46 413.74 L1215.90 413.71 L1216.34 413.79 L1216.73 414.00 L1217.41 414.48 L1217.43 414.49 L1218.46 415.24 L1218.48 415.26 L1219.49 416.03 L1219.51 416.04 L1220.52 416.83 L1220.54 416.84 L1221.53 417.65 L1221.55 417.66 L1222.53 418.48 L1222.54 418.50 L1223.51 419.33 L1223.53 419.35 L1224.48 420.19 L1224.50 420.21 L1225.43 421.07 L1225.45 421.09 L1226.37 421.97 L1226.39 421.99 L1227.30 422.88 L1227.32 422.90 L1228.21 423.81 L1228.23 423.83 L1229.11 424.75 L1229.13 424.77 L1229.99 425.70 L1230.01 425.72 L1230.85 426.67 L1230.87 426.69 L1231.70 427.66 L1231.72 427.67 L1232.54 428.65 L1232.55 428.67 L1233.36 429.66 L1233.37 429.68 L1234.16 430.69 L1234.17 430.71 L1234.94 431.72 L1234.96 431.74 L1235.71 432.77 L1235.72 432.79 L1236.20 433.47 L1236.41 433.86 L1236.49 434.30 L1236.46 434.74 L1236.31 435.15 L1236.05 435.51 L1235.70 435.78 L1219.68 445.03 L1219.32 445.18 L1218.94 445.24 L1218.55 445.21 L1218.19 445.08 L1217.86 444.88 L1217.59 444.59 L1217.46 444.41 L1217.45 444.41 L1216.96 443.76 L1216.95 443.75 L1216.45 443.11 L1216.44 443.10 L1215.93 442.46 L1215.92 442.45 L1215.40 441.82 L1215.39 441.82 L1214.86 441.20 L1214.85 441.19 L1214.31 440.57 L1214.31 440.57 L1213.76 439.96 L1213.75 439.95 L1213.19 439.35 L1213.19 439.35 L1212.62 438.76 L1212.61 438.75 L1212.04 438.17 L1212.03 438.16 L1211.45 437.59 L1211.44 437.58 L1210.85 437.01 L1210.85 437.01 L1210.25 436.45 L1210.24 436.44 L1209.63 435.89 L1209.63 435.89 L1209.01 435.35 L1209.00 435.34 L1208.38 434.81 L1208.38 434.80 L1207.75 434.28 L1207.74 434.27 L1207.10 433.76 L1207.09 433.75 L1206.45 433.25 L1206.44 433.24 L1205.79 432.75 L1205.79 432.74 L1205.61 432.61 Z" stroke="#2c2c2c" stroke-width="1.3" fill="#fff" stroke-linejoin="round"/>
<path d="M1177.42 421.40 L1177.04 421.31 L1176.70 421.13 L1176.41 420.87 L1176.19 420.56 L1176.05 420.19 L1176.00 419.81 L1176.00 405.60 L1176.05 405.19 L1176.21 404.80 L1176.47 404.47 L1176.80 404.21 L1177.19 404.05 L1177.60 404.00 L1197.09 404.00 L1197.64 404.10 L1198.77 404.51 L1198.79 404.52 L1199.98 404.97 L1200.00 404.98 L1201.18 405.46 L1201.21 405.47 L1202.38 405.97 L1202.40 405.98 L1203.57 406.49 L1203.59 406.50 L1204.35 406.85 L1204.72 407.09 L1205.01 407.42 L1205.21 407.82 L1205.28 408.25 L1205.23 408.69 L1205.07 409.10 L1195.82 425.12 L1195.59 425.43 L1195.28 425.67 L1194.93 425.84 L1194.55 425.92 L1194.17 425.90 L1193.80 425.79 L1193.59 425.70 L1193.58 425.69 L1192.83 425.38 L1192.82 425.37 L1192.06 425.07 L1192.05 425.07 L1191.29 424.77 L1191.28 424.77 L1190.51 424.49 L1190.50 424.48 L1189.73 424.21 L1189.72 424.21 L1188.94 423.95 L1188.93 423.94 L1188.16 423.69 L1188.15 423.69 L1187.37 423.45 L1187.35 423.45 L1186.57 423.22 L1186.56 423.22 L1185.77 423.00 L1185.76 423.00 L1184.97 422.79 L1184.96 422.79 L1184.17 422.59 L1184.16 422.59 L1183.36 422.41 L1183.35 422.40 L1182.55 422.23 L1182.54 422.23 L1181.74 422.07 L1181.73 422.07 L1180.93 421.92 L1180.91 421.92 L1180.11 421.78 L1180.10 421.78 L1179.29 421.65 L1179.28 421.65 L1178.47 421.53 L1178.46 421.53 L1177.65 421.43 L1177.64 421.42 L1177.42 421.40 Z" stroke="#2c2c2c" stroke-width="1.3" fill="#fff" stroke-linejoin="round"/>
<path d="M1136.13 409.10 L1135.97 408.69 L1135.92 408.25 L1135.99 407.82 L1136.19 407.42 L1136.48 407.09 L1136.85 406.85 L1137.61 406.50 L1137.63 406.49 L1138.80 405.98 L1138.82 405.97 L1139.99 405.47 L1140.02 405.46 L1141.20 404.98 L1141.22 404.97 L1142.41 404.52 L1142.43 404.51 L1143.56 404.10 L1144.11 404.00 L1163.60 404.00 L1164.01 404.05 L1164.40 404.21 L1164.73 404.47 L1164.99 404.80 L1165.15 405.19 L1165.20 405.60 L1165.20 419.81 L1165.15 420.19 L1165.01 420.56 L1164.79 420.87 L1164.50 421.13 L1164.16 421.31 L1163.78 421.40 L1163.56 421.42 L1163.55 421.43 L1162.74 421.53 L1162.73 421.53 L1161.92 421.65 L1161.91 421.65 L1161.10 421.78 L1161.09 421.78 L1160.29 421.92 L1160.27 421.92 L1159.47 422.07 L1159.46 422.07 L1158.66 422.23 L1158.65 422.23 L1157.85 422.40 L1157.84 422.41 L1157.04 422.59 L1157.03 422.59 L1156.24 422.79 L1156.23 422.79 L1155.44 423.00 L1155.43 423.00 L1154.64 423.22 L1154.63 423.22 L1153.85 423.45 L1153.83 423.45 L1153.05 423.69 L1153.04 423.69 L1152.27 423.94 L1152.26 423.95 L1151.48 424.21 L1151.47 424.21 L1150.70 424.48 L1150.69 424.49 L1149.92 424.77 L1149.91 424.77 L1149.15 425.07 L1149.14 425.07 L1148.38 425.37 L1148.37 425.38 L1147.62 425.69 L1147.61 425.70 L1147.40 425.79 L1147.03 425.90 L1146.65 425.92 L1146.27 425.84 L1145.92 425.67 L1145.61 425.43 L1145.38 425.12 L1136.13 409.10 Z" stroke="#2c2c2c" stroke-width="1.3" fill="#fff" stroke-linejoin="round"/>
<path d="M1105.50 435.78 L1105.15 435.51 L1104.89 435.15 L1104.74 434.74 L1104.71 434.30 L1104.79 433.86 L1105.00 433.47 L1105.48 432.79 L1105.49 432.77 L1106.24 431.74 L1106.26 431.72 L1107.03 430.71 L1107.04 430.69 L1107.83 429.68 L1107.84 429.66 L1108.65 428.67 L1108.66 428.65 L1109.48 427.67 L1109.50 427.66 L1110.33 426.69 L1110.35 426.67 L1111.19 425.72 L1111.21 425.70 L1112.07 424.77 L1112.09 424.75 L1112.97 423.83 L1112.99 423.81 L1113.88 422.90 L1113.90 422.88 L1114.81 421.99 L1114.83 421.97 L1115.75 421.09 L1115.77 421.07 L1116.70 420.21 L1116.72 420.19 L1117.67 419.35 L1117.69 419.33 L1118.66 418.50 L1118.67 418.48 L1119.65 417.66 L1119.67 417.65 L1120.66 416.84 L1120.68 416.83 L1121.69 416.04 L1121.71 416.03 L1122.72 415.26 L1122.74 415.24 L1123.77 414.49 L1123.79 414.48 L1124.47 414.00 L1124.86 413.79 L1125.30 413.71 L1125.74 413.74 L1126.15 413.89 L1126.51 414.15 L1126.78 414.50 L1136.03 430.52 L1136.18 430.88 L1136.24 431.26 L1136.21 431.65 L1136.08 432.01 L1135.88 432.34 L1135.59 432.61 L1135.41 432.74 L1135.41 432.75 L1134.76 433.24 L1134.75 433.25 L1134.11 433.75 L1134.10 433.76 L1133.46 434.27 L1133.45 434.28 L1132.82 434.80 L1132.82 434.81 L1132.20 435.34 L1132.19 435.35 L1131.57 435.89 L1131.57 435.89 L1130.96 436.44 L1130.95 436.45 L1130.35 437.01 L1130.35 437.01 L1129.76 437.58 L1129.75 437.59 L1129.17 438.16 L1129.16 438.17 L1128.59 438.75 L1128.58 438.76 L1128.01 439.35 L1128.01 439.35 L1127.45 439.95 L1127.44 439.96 L1126.89 440.57 L1126.89 440.57 L1126.35 441.19 L1126.34 441.20 L1125.81 441.82 L1125.80 441.82 L1125.28 442.45 L1125.27 442.46 L1124.76 443.10 L1124.75 443.11 L1124.25 443.75 L1124.24 443.76 L1123.75 444.41 L1123.74 444.41 L1123.61 444.59 L1123.34 444.88 L1123.01 445.08 L1122.65 445.21 L1122.26 445.24 L1121.88 445.18 L1121.52 445.03 L1105.50 435.78 Z" stroke="#2c2c2c" stroke-width="1.3" fill="#fff" stroke-linejoin="round"/>
<path d="M1095.00 453.11 L1095.10 452.56 L1095.51 451.43 L1095.52 451.41 L1095.97 450.22 L1095.98 450.20 L1096.46 449.02 L1096.47 448.99 L1096.97 447.82 L1096.98 447.80 L1097.49 446.63 L1097.50 446.61 L1097.85 445.85 L1098.09 445.48 L1098.42 445.19 L1098.82 444.99 L1099.25 444.92 L1099.69 444.97 L1100.10 445.13 L1116.12 454.38 L1116.43 454.61 L1116.67 454.92 L1116.84 455.27 L1116.92 455.65 L1116.90 456.03 L1116.79 456.40 L1116.70 456.61 L1116.69 456.62 L1116.38 457.37 L1116.37 457.38 L1116.07 458.14 L1116.07 458.15 L1115.77 458.91 L1115.77 458.92 L1115.49 459.69 L1115.48 459.70 L1115.21 460.47 L1115.21 460.48 L1114.95 461.26 L1114.94 461.27 L1114.69 462.04 L1114.69 462.05 L1114.45 462.83 L1114.45 462.85 L1114.22 463.63 L1114.22 463.64 L1114.00 464.43 L1114.00 464.44 L1113.79 465.23 L1113.79 465.24 L1113.59 466.03 L1113.59 466.04 L1113.41 466.84 L1113.40 466.85 L1113.23 467.65 L1113.23 467.66 L1113.07 468.46 L1113.07 468.47 L1112.92 469.27 L1112.92 469.29 L1112.78 470.09 L1112.78 470.10 L1112.65 470.91 L1112.65 470.92 L1112.53 471.73 L1112.53 471.74 L1112.43 472.55 L1112.42 472.56 L1112.40 472.78 L1112.31 473.16 L1112.13 473.50 L1111.87 473.79 L1111.56 474.01 L1111.19 474.15 L1110.81 474.20 L1096.60 474.20 L1096.19 474.15 L1095.80 473.99 L1095.47 473.73 L1095.21 473.40 L1095.05 473.01 L1095.00 472.60 L1095.00 453.11 Z" stroke="#2c2c2c" stroke-width="1.3" fill="#fff" stroke-linejoin="round"/>
<path d="M1131.08 549.39 L1130.74 549.13 L1130.48 548.80 L1130.31 548.40 L1130.26 547.98 L1130.31 547.56 L1130.48 547.17 L1139.88 531.34 L1140.13 531.02 L1140.46 530.77 L1140.84 530.61 L1141.24 530.56 L1141.65 530.61 L1142.03 530.76 L1142.56 531.05 L1142.57 531.06 L1143.51 531.56 L1143.53 531.57 L1144.48 532.06 L1144.49 532.06 L1145.45 532.53 L1145.47 532.54 L1146.43 532.99 L1146.45 532.99 L1147.43 533.42 L1147.44 533.43 L1148.42 533.84 L1148.44 533.85 L1149.43 534.24 L1149.44 534.25 L1150.44 534.62 L1150.46 534.63 L1151.46 534.99 L1151.48 534.99 L1152.49 535.33 L1152.50 535.34 L1153.52 535.66 L1153.54 535.66 L1154.56 535.96 L1154.58 535.97 L1155.61 536.25 L1155.62 536.25 L1156.66 536.52 L1156.67 536.52 L1157.71 536.76 L1157.72 536.77 L1158.77 536.99 L1158.78 537.00 L1159.83 537.20 L1159.85 537.20 L1160.90 537.39 L1160.91 537.39 L1161.97 537.56 L1161.98 537.56 L1163.04 537.71 L1163.05 537.71 L1163.79 537.80 L1164.17 537.89 L1164.51 538.07 L1164.80 538.33 L1165.02 538.65 L1165.15 539.01 L1165.20 539.39 L1165.20 553.60 L1165.15 554.01 L1164.99 554.40 L1164.73 554.73 L1164.40 554.99 L1164.01 555.15 L1163.60 555.20 L1144.11 555.20 L1143.56 555.10 L1142.35 554.66 L1142.32 554.65 L1140.89 554.09 L1140.86 554.08 L1139.44 553.50 L1139.41 553.49 L1138.01 552.88 L1137.98 552.87 L1136.58 552.23 L1136.55 552.21 L1135.17 551.55 L1135.14 551.54 L1133.77 550.85 L1133.75 550.83 L1132.39 550.11 L1132.36 550.10 L1131.08 549.39 Z" stroke="#2c2c2c" stroke-width="1.3" fill="#fff" stroke-linejoin="round"/>
<path d="M1176.00 539.39 L1176.05 539.01 L1176.19 538.64 L1176.41 538.33 L1176.70 538.07 L1177.04 537.89 L1177.42 537.80 L1177.64 537.78 L1177.65 537.77 L1178.46 537.67 L1178.47 537.67 L1179.28 537.55 L1179.29 537.55 L1180.10 537.42 L1180.11 537.42 L1180.91 537.28 L1180.93 537.28 L1181.73 537.13 L1181.74 537.13 L1182.54 536.97 L1182.55 536.97 L1183.35 536.80 L1183.36 536.79 L1184.16 536.61 L1184.17 536.61 L1184.96 536.41 L1184.97 536.41 L1185.76 536.20 L1185.77 536.20 L1186.56 535.98 L1186.57 535.98 L1187.35 535.75 L1187.37 535.75 L1188.15 535.51 L1188.16 535.51 L1188.93 535.26 L1188.94 535.25 L1189.72 534.99 L1189.73 534.99 L1190.50 534.72 L1190.51 534.71 L1191.28 534.43 L1191.29 534.43 L1192.05 534.13 L1192.06 534.13 L1192.82 533.83 L1192.83 533.82 L1193.58 533.51 L1193.59 533.50 L1193.80 533.41 L1194.17 533.30 L1194.55 533.28 L1194.93 533.36 L1195.28 533.53 L1195.59 533.77 L1195.82 534.08 L1205.07 550.10 L1205.23 550.51 L1205.28 550.95 L1205.21 551.38 L1205.01 551.78 L1204.72 552.11 L1204.35 552.35 L1203.59 552.70 L1203.57 552.71 L1202.40 553.22 L1202.38 553.23 L1201.21 553.73 L1201.18 553.74 L1200.00 554.22 L1199.98 554.23 L1198.79 554.68 L1198.77 554.69 L1197.64 555.10 L1197.09 555.20 L1177.60 555.20 L1177.19 555.15 L1176.80 554.99 L1176.47 554.73 L1176.21 554.40 L1176.05 554.01 L1176.00 553.60 L1176.00 539.39 Z" stroke="#2c2c2c" stroke-width="1.3" fill="#fff" stroke-linejoin="round"/>
<path d="M1205.17 528.68 L1205.02 528.32 L1204.96 527.94 L1204.99 527.55 L1205.12 527.19 L1205.32 526.86 L1205.61 526.59 L1205.79 526.46 L1205.79 526.45 L1206.44 525.96 L1206.45 525.95 L1207.09 525.45 L1207.10 525.44 L1207.74 524.93 L1207.75 524.92 L1208.38 524.40 L1208.38 524.39 L1209.00 523.86 L1209.01 523.85 L1209.63 523.31 L1209.63 523.31 L1210.24 522.76 L1210.25 522.75 L1210.85 522.19 L1210.85 522.19 L1211.44 521.62 L1211.45 521.61 L1212.03 521.04 L1212.04 521.03 L1212.61 520.45 L1212.62 520.44 L1213.19 519.85 L1213.19 519.85 L1213.75 519.25 L1213.76 519.24 L1214.31 518.63 L1214.31 518.63 L1214.85 518.01 L1214.86 518.00 L1215.39 517.38 L1215.40 517.38 L1215.92 516.75 L1215.93 516.74 L1216.44 516.10 L1216.45 516.09 L1216.95 515.45 L1216.96 515.44 L1217.45 514.79 L1217.46 514.79 L1217.59 514.61 L1217.86 514.32 L1218.19 514.12 L1218.55 513.99 L1218.94 513.96 L1219.32 514.02 L1219.68 514.17 L1235.70 523.42 L1236.05 523.69 L1236.31 524.05 L1236.46 524.46 L1236.49 524.90 L1236.41 525.34 L1236.20 525.73 L1235.72 526.41 L1235.71 526.43 L1234.96 527.46 L1234.94 527.48 L1234.17 528.49 L1234.16 528.51 L1233.37 529.52 L1233.36 529.54 L1232.55 530.53 L1232.54 530.55 L1231.72 531.53 L1231.70 531.54 L1230.87 532.51 L1230.85 532.53 L1230.01 533.48 L1229.99 533.50 L1229.13 534.43 L1229.11 534.45 L1228.23 535.37 L1228.21 535.39 L1227.32 536.30 L1227.30 536.32 L1226.39 537.21 L1226.37 537.23 L1225.45 538.11 L1225.43 538.13 L1224.50 538.99 L1224.48 539.01 L1223.53 539.85 L1223.51 539.87 L1222.54 540.70 L1222.53 540.72 L1221.55 541.54 L1221.53 541.55 L1220.54 542.36 L1220.52 542.37 L1219.51 543.16 L1219.49 543.17 L1218.48 543.94 L1218.46 543.96 L1217.43 544.71 L1217.41 544.72 L1216.73 545.20 L1216.34 545.41 L1215.90 545.49 L1215.46 545.46 L1215.05 545.31 L1214.69 545.05 L1214.42 544.70 L1205.17 528.68 Z" stroke="#2c2c2c" stroke-width="1.3" fill="#fff" stroke-linejoin="round"/>
<path d="M1225.08 504.82 L1224.77 504.59 L1224.53 504.28 L1224.36 503.93 L1224.28 503.55 L1224.30 503.17 L1224.41 502.80 L1224.50 502.59 L1224.51 502.58 L1224.82 501.83 L1224.83 501.82 L1225.13 501.06 L1225.13 501.05 L1225.43 500.29 L1225.43 500.28 L1225.71 499.51 L1225.72 499.50 L1225.99 498.73 L1225.99 498.72 L1226.25 497.94 L1226.26 497.93 L1226.51 497.16 L1226.51 497.15 L1226.75 496.37 L1226.75 496.35 L1226.98 495.57 L1226.98 495.56 L1227.20 494.77 L1227.20 494.76 L1227.41 493.97 L1227.41 493.96 L1227.61 493.17 L1227.61 493.16 L1227.79 492.36 L1227.80 492.35 L1227.97 491.55 L1227.97 491.54 L1228.13 490.74 L1228.13 490.73 L1228.28 489.93 L1228.28 489.91 L1228.42 489.11 L1228.42 489.10 L1228.55 488.29 L1228.55 488.28 L1228.67 487.47 L1228.67 487.46 L1228.77 486.65 L1228.78 486.64 L1228.80 486.42 L1228.89 486.04 L1229.07 485.70 L1229.33 485.41 L1229.64 485.19 L1230.01 485.05 L1230.39 485.00 L1244.60 485.00 L1245.01 485.05 L1245.40 485.21 L1245.73 485.47 L1245.99 485.80 L1246.15 486.19 L1246.20 486.60 L1246.20 506.09 L1246.10 506.64 L1245.69 507.77 L1245.68 507.79 L1245.23 508.98 L1245.22 509.00 L1244.74 510.18 L1244.73 510.21 L1244.23 511.38 L1244.22 511.40 L1243.71 512.57 L1243.70 512.59 L1243.35 513.35 L1243.11 513.72 L1242.78 514.01 L1242.38 514.21 L1241.95 514.28 L1241.51 514.23 L1241.10 514.07 L1225.08 504.82 Z" stroke="#2c2c2c" stroke-width="1.3" fill="#fff" stroke-linejoin="round"/>
<path d="M1110.81 485.00 L1111.20 485.05 L1111.56 485.19 L1111.88 485.41 L1112.14 485.70 L1112.31 486.05 L1112.40 486.43 L1112.41 486.50 L1112.41 486.52 L1112.61 488.01 L1112.61 488.03 L1112.85 489.52 L1112.85 489.54 L1113.12 491.01 L1113.13 491.03 L1113.44 492.50 L1113.44 492.52 L1113.79 493.98 L1113.80 494.00 L1114.18 495.45 L1114.19 495.47 L1114.62 496.91 L1114.62 496.93 L1115.08 498.36 L1115.09 498.38 L1115.59 499.79 L1115.60 499.81 L1116.13 501.22 L1116.14 501.23 L1116.71 502.62 L1116.72 502.64 L1117.33 504.01 L1117.34 504.03 L1117.98 505.39 L1117.99 505.41 L1118.67 506.75 L1118.68 506.77 L1119.39 508.09 L1119.40 508.10 L1120.15 509.41 L1120.16 509.42 L1120.94 510.71 L1120.95 510.72 L1121.76 511.99 L1121.77 512.00 L1122.62 513.24 L1122.63 513.26 L1123.51 514.48 L1123.52 514.49 L1124.43 515.69 L1124.44 515.71 L1125.38 516.87 L1125.59 517.22 L1125.71 517.61 L1125.73 518.02 L1125.64 518.41 L1125.45 518.78 L1125.18 519.08 L1111.30 531.15 L1110.94 531.38 L1110.54 531.52 L1110.12 531.54 L1109.71 531.45 L1109.34 531.26 L1109.02 530.98 L1108.69 530.58 L1108.66 530.55 L1107.33 528.89 L1107.31 528.85 L1106.03 527.16 L1106.00 527.13 L1104.76 525.40 L1104.74 525.36 L1103.55 523.61 L1103.53 523.57 L1102.39 521.78 L1102.37 521.74 L1101.27 519.92 L1101.25 519.88 L1100.21 518.03 L1100.19 518.00 L1099.20 516.12 L1099.18 516.08 L1098.24 514.18 L1098.22 514.14 L1097.33 512.21 L1097.31 512.17 L1096.48 510.22 L1096.46 510.18 L1095.68 508.21 L1095.66 508.17 L1095.10 506.63 L1095.00 506.08 L1095.00 486.60 L1095.05 486.19 L1095.21 485.80 L1095.47 485.47 L1095.80 485.21 L1096.19 485.05 L1096.60 485.00 L1110.81 485.00 Z" stroke="#2c2c2c" stroke-width="1.3" fill="#fff" stroke-linejoin="round"/>
<path d="M1192.02 455.83 L1191.74 455.50 L1191.56 455.10 L1191.49 454.67 L1191.54 454.24 L1191.71 453.84 L1198.31 442.40 L1198.55 442.09 L1198.86 441.84 L1199.22 441.68 L1199.61 441.61 L1200.00 441.63 L1200.38 441.76 L1200.71 441.97 L1201.79 442.85 L1201.83 442.89 L1203.03 443.95 L1203.07 443.98 L1204.24 445.08 L1204.28 445.12 L1205.40 446.25 L1205.44 446.29 L1206.52 447.46 L1206.56 447.50 L1207.60 448.71 L1207.64 448.76 L1208.64 450.00 L1208.67 450.04 L1209.63 451.32 L1209.66 451.36 L1210.58 452.67 L1210.61 452.72 L1211.48 454.06 L1211.51 454.11 L1212.33 455.48 L1212.36 455.52 L1213.13 456.92 L1213.16 456.97 L1213.88 458.39 L1213.91 458.44 L1214.58 459.89 L1214.61 459.94 L1215.23 461.41 L1215.25 461.46 L1215.83 462.95 L1215.85 463.00 L1216.38 464.51 L1216.39 464.56 L1216.87 466.08 L1216.88 466.14 L1217.30 467.68 L1217.32 467.73 L1217.68 469.29 L1217.69 469.34 L1218.01 470.90 L1218.02 470.96 L1218.25 472.34 L1218.26 472.73 L1218.18 473.12 L1218.01 473.48 L1217.75 473.78 L1217.43 474.01 L1217.06 474.15 L1216.67 474.20 L1203.46 474.20 L1203.03 474.14 L1202.63 473.97 L1202.30 473.70 L1202.04 473.35 L1201.90 472.94 L1201.77 472.36 L1201.76 472.34 L1201.54 471.44 L1201.54 471.42 L1201.29 470.54 L1201.28 470.51 L1201.01 469.63 L1201.00 469.61 L1200.70 468.74 L1200.69 468.72 L1200.37 467.86 L1200.36 467.84 L1200.01 466.99 L1200.00 466.96 L1199.62 466.12 L1199.61 466.10 L1199.21 465.27 L1199.20 465.25 L1198.78 464.43 L1198.77 464.41 L1198.32 463.61 L1198.31 463.59 L1197.83 462.80 L1197.82 462.78 L1197.33 462.00 L1197.31 461.98 L1196.80 461.22 L1196.78 461.20 L1196.24 460.46 L1196.23 460.44 L1195.67 459.71 L1195.65 459.69 L1195.07 458.98 L1195.05 458.96 L1194.45 458.27 L1194.44 458.25 L1193.81 457.57 L1193.79 457.55 L1193.15 456.90 L1193.13 456.88 L1192.47 456.24 L1192.45 456.23 L1192.02 455.83 Z" stroke="#2c2c2c" stroke-width="1.3" fill="#fff" stroke-linejoin="round"/>
<path d="M1152.24 437.00 L1152.09 436.64 L1152.03 436.25 L1152.07 435.86 L1152.20 435.48 L1152.42 435.15 L1152.71 434.89 L1153.06 434.71 L1154.37 434.21 L1154.43 434.20 L1155.94 433.68 L1155.99 433.67 L1157.52 433.21 L1157.57 433.19 L1159.12 432.79 L1159.17 432.77 L1160.73 432.42 L1160.78 432.41 L1162.35 432.11 L1162.41 432.10 L1163.98 431.86 L1164.04 431.85 L1165.62 431.66 L1165.68 431.65 L1167.27 431.52 L1167.33 431.51 L1168.92 431.43 L1168.98 431.43 L1170.57 431.40 L1170.63 431.40 L1172.22 431.43 L1172.28 431.43 L1173.87 431.51 L1173.93 431.52 L1175.52 431.65 L1175.58 431.66 L1177.16 431.85 L1177.22 431.86 L1178.79 432.10 L1178.85 432.11 L1180.42 432.41 L1180.47 432.42 L1182.03 432.77 L1182.08 432.79 L1183.63 433.19 L1183.68 433.21 L1185.21 433.67 L1185.26 433.68 L1186.77 434.20 L1186.83 434.21 L1188.14 434.71 L1188.49 434.89 L1188.78 435.15 L1189.00 435.48 L1189.13 435.86 L1189.17 436.25 L1189.11 436.64 L1188.96 437.00 L1182.35 448.44 L1182.09 448.79 L1181.74 449.04 L1181.34 449.20 L1180.91 449.24 L1180.48 449.17 L1179.92 448.99 L1179.89 448.98 L1179.01 448.72 L1178.99 448.72 L1178.09 448.49 L1178.07 448.48 L1177.17 448.28 L1177.15 448.28 L1176.25 448.10 L1176.22 448.10 L1175.32 447.95 L1175.29 447.95 L1174.38 447.82 L1174.36 447.82 L1173.44 447.73 L1173.42 447.72 L1172.50 447.66 L1172.48 447.66 L1171.56 447.61 L1171.53 447.61 L1170.61 447.60 L1170.59 447.60 L1169.67 447.61 L1169.64 447.61 L1168.72 447.66 L1168.70 447.66 L1167.78 447.72 L1167.76 447.73 L1166.84 447.82 L1166.82 447.82 L1165.91 447.95 L1165.88 447.95 L1164.98 448.10 L1164.95 448.10 L1164.05 448.28 L1164.03 448.28 L1163.13 448.48 L1163.11 448.49 L1162.21 448.72 L1162.19 448.72 L1161.31 448.98 L1161.28 448.99 L1160.72 449.17 L1160.29 449.24 L1159.86 449.20 L1159.46 449.04 L1159.11 448.79 L1158.85 448.44 L1152.24 437.00 Z" stroke="#2c2c2c" stroke-width="1.3" fill="#fff" stroke-linejoin="round"/>
<path d="M1124.53 474.20 L1124.14 474.15 L1123.77 474.01 L1123.45 473.78 L1123.19 473.48 L1123.02 473.12 L1122.94 472.73 L1122.95 472.34 L1123.18 470.96 L1123.19 470.90 L1123.51 469.34 L1123.52 469.29 L1123.88 467.73 L1123.90 467.68 L1124.32 466.14 L1124.33 466.08 L1124.81 464.56 L1124.82 464.51 L1125.35 463.00 L1125.37 462.95 L1125.95 461.46 L1125.97 461.41 L1126.59 459.94 L1126.62 459.89 L1127.29 458.44 L1127.32 458.39 L1128.04 456.97 L1128.07 456.92 L1128.84 455.52 L1128.87 455.48 L1129.69 454.11 L1129.72 454.06 L1130.59 452.72 L1130.62 452.67 L1131.54 451.36 L1131.57 451.32 L1132.53 450.04 L1132.56 450.00 L1133.56 448.76 L1133.60 448.71 L1134.64 447.50 L1134.68 447.46 L1135.76 446.29 L1135.80 446.25 L1136.92 445.12 L1136.96 445.08 L1138.13 443.98 L1138.17 443.95 L1139.37 442.89 L1139.41 442.85 L1140.49 441.97 L1140.82 441.76 L1141.20 441.63 L1141.59 441.61 L1141.98 441.68 L1142.34 441.84 L1142.65 442.09 L1142.89 442.40 L1149.49 453.84 L1149.66 454.24 L1149.71 454.67 L1149.64 455.10 L1149.46 455.50 L1149.18 455.83 L1148.75 456.23 L1148.73 456.24 L1148.07 456.88 L1148.05 456.90 L1147.41 457.55 L1147.39 457.57 L1146.76 458.25 L1146.75 458.27 L1146.15 458.96 L1146.13 458.98 L1145.55 459.69 L1145.53 459.71 L1144.97 460.44 L1144.96 460.46 L1144.42 461.20 L1144.40 461.22 L1143.89 461.98 L1143.87 462.00 L1143.38 462.78 L1143.37 462.80 L1142.89 463.59 L1142.88 463.61 L1142.43 464.41 L1142.42 464.43 L1142.00 465.25 L1141.99 465.27 L1141.59 466.10 L1141.58 466.12 L1141.20 466.96 L1141.19 466.99 L1140.84 467.84 L1140.83 467.86 L1140.51 468.72 L1140.50 468.74 L1140.20 469.61 L1140.19 469.63 L1139.92 470.51 L1139.91 470.54 L1139.66 471.42 L1139.66 471.44 L1139.44 472.34 L1139.43 472.36 L1139.30 472.94 L1139.16 473.35 L1138.90 473.70 L1138.57 473.97 L1138.17 474.14 L1137.74 474.20 L1124.53 474.20 Z" stroke="#2c2c2c" stroke-width="1.3" fill="#fff" stroke-linejoin="round"/>
<path d="M1153.06 524.49 L1152.71 524.31 L1152.42 524.05 L1152.20 523.72 L1152.07 523.34 L1152.03 522.95 L1152.09 522.56 L1152.24 522.20 L1158.85 510.76 L1159.11 510.41 L1159.46 510.16 L1159.86 510.00 L1160.29 509.96 L1160.72 510.03 L1161.28 510.21 L1161.31 510.22 L1162.19 510.48 L1162.21 510.48 L1163.11 510.71 L1163.13 510.72 L1164.03 510.92 L1164.05 510.92 L1164.95 511.10 L1164.98 511.10 L1165.88 511.25 L1165.91 511.25 L1166.82 511.38 L1166.84 511.38 L1167.76 511.47 L1167.78 511.48 L1168.70 511.54 L1168.72 511.54 L1169.64 511.59 L1169.67 511.59 L1170.59 511.60 L1170.61 511.60 L1171.53 511.59 L1171.56 511.59 L1172.48 511.54 L1172.50 511.54 L1173.42 511.48 L1173.44 511.47 L1174.36 511.38 L1174.38 511.38 L1175.29 511.25 L1175.32 511.25 L1176.22 511.10 L1176.25 511.10 L1177.15 510.92 L1177.17 510.92 L1178.07 510.72 L1178.09 510.71 L1178.99 510.48 L1179.01 510.48 L1179.89 510.22 L1179.92 510.21 L1180.48 510.03 L1180.91 509.96 L1181.34 510.00 L1181.74 510.16 L1182.09 510.41 L1182.35 510.76 L1188.96 522.20 L1189.11 522.56 L1189.17 522.95 L1189.13 523.34 L1189.00 523.72 L1188.78 524.05 L1188.49 524.31 L1188.14 524.49 L1186.83 524.99 L1186.77 525.00 L1185.26 525.52 L1185.21 525.53 L1183.68 525.99 L1183.63 526.01 L1182.08 526.41 L1182.03 526.43 L1180.47 526.78 L1180.42 526.79 L1178.85 527.09 L1178.79 527.10 L1177.22 527.34 L1177.16 527.35 L1175.58 527.54 L1175.52 527.55 L1173.93 527.68 L1173.87 527.69 L1172.28 527.77 L1172.22 527.77 L1170.63 527.80 L1170.57 527.80 L1168.98 527.77 L1168.92 527.77 L1167.33 527.69 L1167.27 527.68 L1165.68 527.55 L1165.62 527.54 L1164.04 527.35 L1163.98 527.34 L1162.41 527.10 L1162.35 527.09 L1160.78 526.79 L1160.73 526.78 L1159.17 526.43 L1159.12 526.41 L1157.57 526.01 L1157.52 525.99 L1155.99 525.53 L1155.94 525.52 L1154.43 525.00 L1154.37 524.99 L1153.06 524.49 Z" stroke="#2c2c2c" stroke-width="1.3" fill="#fff" stroke-linejoin="round"/>
<path d="M1191.71 505.36 L1191.54 504.96 L1191.49 504.53 L1191.56 504.10 L1191.74 503.70 L1192.02 503.37 L1192.45 502.97 L1192.47 502.96 L1193.13 502.32 L1193.15 502.30 L1193.79 501.65 L1193.81 501.63 L1194.44 500.95 L1194.45 500.93 L1195.05 500.24 L1195.07 500.22 L1195.65 499.51 L1195.67 499.49 L1196.23 498.76 L1196.24 498.74 L1196.78 498.00 L1196.80 497.98 L1197.31 497.22 L1197.33 497.20 L1197.82 496.42 L1197.83 496.40 L1198.31 495.61 L1198.32 495.59 L1198.77 494.79 L1198.78 494.77 L1199.20 493.95 L1199.21 493.93 L1199.61 493.10 L1199.62 493.08 L1200.00 492.24 L1200.01 492.21 L1200.36 491.36 L1200.37 491.34 L1200.69 490.48 L1200.70 490.46 L1201.00 489.59 L1201.01 489.57 L1201.28 488.69 L1201.29 488.66 L1201.54 487.78 L1201.54 487.76 L1201.76 486.86 L1201.77 486.84 L1201.90 486.26 L1202.04 485.85 L1202.30 485.50 L1202.63 485.23 L1203.03 485.06 L1203.46 485.00 L1216.67 485.00 L1217.06 485.05 L1217.43 485.19 L1217.75 485.42 L1218.01 485.72 L1218.18 486.08 L1218.26 486.47 L1218.25 486.86 L1218.02 488.24 L1218.01 488.30 L1217.69 489.86 L1217.68 489.91 L1217.32 491.47 L1217.30 491.52 L1216.88 493.06 L1216.87 493.12 L1216.39 494.64 L1216.38 494.69 L1215.85 496.20 L1215.83 496.25 L1215.25 497.74 L1215.23 497.79 L1214.61 499.26 L1214.58 499.31 L1213.91 500.76 L1213.88 500.81 L1213.16 502.23 L1213.13 502.28 L1212.36 503.68 L1212.33 503.72 L1211.51 505.09 L1211.48 505.14 L1210.61 506.48 L1210.58 506.53 L1209.66 507.84 L1209.63 507.88 L1208.67 509.16 L1208.64 509.20 L1207.64 510.44 L1207.60 510.49 L1206.56 511.70 L1206.52 511.74 L1205.44 512.91 L1205.40 512.95 L1204.28 514.08 L1204.24 514.12 L1203.07 515.22 L1203.03 515.25 L1201.83 516.31 L1201.79 516.35 L1200.71 517.23 L1200.38 517.44 L1200.00 517.57 L1199.61 517.59 L1199.22 517.52 L1198.86 517.36 L1198.55 517.11 L1198.31 516.80 L1191.71 505.36 Z" stroke="#2c2c2c" stroke-width="1.3" fill="#fff" stroke-linejoin="round"/>
<path d="M1122.95 486.83 L1122.94 486.44 L1123.03 486.06 L1123.20 485.71 L1123.46 485.41 L1123.78 485.19 L1124.14 485.05 L1124.53 485.00 L1137.74 485.00 L1138.17 485.06 L1138.57 485.23 L1138.90 485.51 L1139.16 485.86 L1139.30 486.27 L1139.31 486.30 L1139.45 486.93 L1139.45 486.94 L1139.61 487.57 L1139.61 487.58 L1139.78 488.20 L1139.78 488.22 L1139.96 488.83 L1139.97 488.85 L1140.16 489.46 L1140.16 489.48 L1140.37 490.09 L1140.37 490.10 L1140.59 490.71 L1140.59 490.72 L1140.82 491.32 L1140.83 491.34 L1141.07 491.93 L1141.08 491.95 L1141.33 492.54 L1141.34 492.55 L1141.60 493.13 L1141.61 493.15 L1141.89 493.73 L1141.90 493.74 L1142.18 494.32 L1142.19 494.33 L1142.49 494.90 L1142.50 494.91 L1142.81 495.47 L1142.82 495.49 L1143.15 496.04 L1143.15 496.05 L1143.49 496.60 L1143.50 496.62 L1143.85 497.16 L1143.85 497.17 L1144.21 497.70 L1144.22 497.72 L1144.48 498.08 L1144.67 498.44 L1144.76 498.83 L1144.75 499.24 L1144.64 499.63 L1144.44 499.97 L1144.15 500.26 L1133.90 508.27 L1133.53 508.49 L1133.12 508.60 L1132.70 508.59 L1132.28 508.48 L1131.92 508.26 L1131.62 507.95 L1131.31 507.52 L1131.29 507.49 L1130.68 506.61 L1130.66 506.58 L1130.07 505.68 L1130.05 505.65 L1129.48 504.75 L1129.46 504.71 L1128.91 503.79 L1128.89 503.76 L1128.37 502.83 L1128.35 502.80 L1127.85 501.86 L1127.83 501.82 L1127.35 500.87 L1127.33 500.84 L1126.87 499.87 L1126.85 499.84 L1126.42 498.86 L1126.40 498.83 L1125.99 497.84 L1125.97 497.81 L1125.58 496.81 L1125.57 496.78 L1125.20 495.77 L1125.18 495.74 L1124.84 494.73 L1124.82 494.69 L1124.50 493.67 L1124.49 493.64 L1124.19 492.61 L1124.18 492.58 L1123.90 491.54 L1123.89 491.51 L1123.64 490.47 L1123.63 490.43 L1123.40 489.39 L1123.40 489.35 L1123.19 488.30 L1123.19 488.27 L1123.00 487.21 L1123.00 487.17 L1122.95 486.83 Z" stroke="#2c2c2c" stroke-width="1.3" fill="#fff" stroke-linejoin="round"/>
<rect x="186.25" y="681.25" width="125.50" height="111.25" rx="0" stroke="#111" stroke-width="1.2" fill="none"/>
<rect x="340.75" y="681.25" width="88.75" height="112.00" rx="0" stroke="#111" stroke-width="1.2" fill="none"/>
<rect x="472.50" y="681.25" width="88.10" height="112.00" rx="0" stroke="#111" stroke-width="1.2" fill="none"/>
<rect x="587.50" y="681.25" width="89.25" height="112.00" rx="0" stroke="#111" stroke-width="1.2" fill="none"/>
<rect x="785.50" y="680.75" width="88.75" height="112.50" rx="0" stroke="#111" stroke-width="1.2" fill="none"/>
<rect x="952.50" y="679.50" width="89.00" height="113.75" rx="0" stroke="#111" stroke-width="1.2" fill="none"/>
<rect x="1101.70" y="681.25" width="88.80" height="112.00" rx="0" stroke="#111" stroke-width="1.2" fill="none"/>
<rect x="1271.50" y="683.25" width="91.00" height="110.00" rx="0" stroke="#111" stroke-width="1.2" fill="none"/>
<path d="M362.40 766.60 L367.35 757.60 L377.25 757.60 L382.20 766.60 L377.25 775.60 L367.35 775.60 Z" stroke="#111" stroke-width="1.1" fill="#d9423c"/>
<circle cx="372.30" cy="766.90" r="3.80" stroke="#111" stroke-width="1.2" fill="#fff"/>
<path d="M388.35 766.60 L393.30 757.60 L403.20 757.60 L408.15 766.60 L403.20 775.60 L393.30 775.60 Z" stroke="#111" stroke-width="1.1" fill="#161616"/>
<circle cx="398.25" cy="766.90" r="3.80" stroke="#111" stroke-width="1.2" fill="#fff"/>
<path d="M493.65 766.60 L498.60 757.60 L508.50 757.60 L513.45 766.60 L508.50 775.60 L498.60 775.60 Z" stroke="#111" stroke-width="1.1" fill="#d9423c"/>
<circle cx="503.55" cy="766.90" r="3.80" stroke="#111" stroke-width="1.2" fill="#fff"/>
<path d="M518.85 766.60 L523.80 757.60 L533.70 757.60 L538.65 766.60 L533.70 775.60 L523.80 775.60 Z" stroke="#111" stroke-width="1.1" fill="#161616"/>
<circle cx="528.75" cy="766.90" r="3.80" stroke="#111" stroke-width="1.2" fill="#fff"/>
<path d="M608.65 766.60 L613.60 757.60 L623.50 757.60 L628.45 766.60 L623.50 775.60 L613.60 775.60 Z" stroke="#111" stroke-width="1.1" fill="#d9423c"/>
<circle cx="618.55" cy="766.90" r="3.80" stroke="#111" stroke-width="1.2" fill="#fff"/>
<path d="M633.85 766.60 L638.80 757.60 L648.70 757.60 L653.65 766.60 L648.70 775.60 L638.80 775.60 Z" stroke="#111" stroke-width="1.1" fill="#161616"/>
<circle cx="643.75" cy="766.90" r="3.80" stroke="#111" stroke-width="1.2" fill="#fff"/>
<path d="M809.15 764.85 L814.10 755.85 L824.00 755.85 L828.95 764.85 L824.00 773.85 L814.10 773.85 Z" stroke="#111" stroke-width="1.1" fill="#d9423c"/>
<circle cx="819.05" cy="765.15" r="3.80" stroke="#111" stroke-width="1.2" fill="#fff"/>
<path d="M834.35 764.85 L839.30 755.85 L849.20 755.85 L854.15 764.85 L849.20 773.85 L839.30 773.85 Z" stroke="#111" stroke-width="1.1" fill="#161616"/>
<circle cx="844.25" cy="765.15" r="3.80" stroke="#111" stroke-width="1.2" fill="#fff"/>
<path d="M973.90 766.60 L978.85 757.60 L988.75 757.60 L993.70 766.60 L988.75 775.60 L978.85 775.60 Z" stroke="#111" stroke-width="1.1" fill="#d9423c"/>
<circle cx="983.80" cy="766.90" r="3.80" stroke="#111" stroke-width="1.2" fill="#fff"/>
<path d="M999.10 766.60 L1004.05 757.60 L1013.95 757.60 L1018.90 766.60 L1013.95 775.60 L1004.05 775.60 Z" stroke="#111" stroke-width="1.1" fill="#161616"/>
<circle cx="1009.00" cy="766.90" r="3.80" stroke="#111" stroke-width="1.2" fill="#fff"/>
<path d="M1125.65 766.60 L1130.60 757.60 L1140.50 757.60 L1145.45 766.60 L1140.50 775.60 L1130.60 775.60 Z" stroke="#111" stroke-width="1.1" fill="#d9423c"/>
<circle cx="1135.55" cy="766.90" r="3.80" stroke="#111" stroke-width="1.2" fill="#fff"/>
<path d="M1150.60 766.60 L1155.55 757.60 L1165.45 757.60 L1170.40 766.60 L1165.45 775.60 L1155.55 775.60 Z" stroke="#111" stroke-width="1.1" fill="#161616"/>
<circle cx="1160.50" cy="766.90" r="3.80" stroke="#111" stroke-width="1.2" fill="#fff"/>
<path d="M1294.15 766.60 L1299.10 757.60 L1309.00 757.60 L1313.95 766.60 L1309.00 775.60 L1299.10 775.60 Z" stroke="#111" stroke-width="1.1" fill="#d9423c"/>
<circle cx="1304.05" cy="766.90" r="3.80" stroke="#111" stroke-width="1.2" fill="#fff"/>
<path d="M1319.35 766.60 L1324.30 757.60 L1334.20 757.60 L1339.15 766.60 L1334.20 775.60 L1324.30 775.60 Z" stroke="#111" stroke-width="1.1" fill="#161616"/>
<circle cx="1329.25" cy="766.90" r="3.80" stroke="#111" stroke-width="1.2" fill="#fff"/>
<circle cx="247.40" cy="764.10" r="10.30" stroke="#221a2a" stroke-width="1.2" fill="#8868ac"/>
<circle cx="247.40" cy="764.10" r="6.00" stroke="#221a2a" stroke-width="1.2" fill="#fff"/>
<circle cx="247.40" cy="764.60" r="3.80" stroke="#222" stroke-width="1.0" fill="#fff"/>
<path d="M417.40 531.00 L417.40 611.80 L247.40 611.80 L247.40 762.00" stroke="#8a68ae" stroke-width="4.4" fill="none" stroke-linejoin="miter" stroke-linecap="butt"/>
<path d="M554.60 453.50 L532.30 487.90 L532.30 637.50 L388.70 637.50 L388.70 746.50 L398.25 766.25" stroke="#e0413a" stroke-width="4.9" fill="none" stroke-linejoin="miter" stroke-linecap="butt"/>
<path d="M553.20 516.60 L527.20 483.80 L527.20 632.00 L383.60 632.00 L383.60 745.50 L372.60 766.40" stroke="#161616" stroke-width="4.9" fill="none" stroke-linejoin="miter" stroke-linecap="butt"/>
<path d="M602.80 516.90 L581.30 489.20 L581.30 665.70 L518.90 665.70 L518.90 745.00 L528.75 766.25" stroke="#161616" stroke-width="5.0" fill="none" stroke-linejoin="miter" stroke-linecap="butt"/>
<path d="M604.30 452.70 L576.30 481.20 L576.30 659.00 L513.75 659.00 L513.75 745.00 L503.25 766.25" stroke="#111" stroke-width="5.199999999999999" fill="none" stroke-linejoin="miter" stroke-linecap="butt"/>
<path d="M604.30 452.70 L576.30 481.20 L576.30 659.00 L513.75 659.00 L513.75 745.00 L503.25 766.25" stroke="#fff" stroke-width="3.3" fill="none" stroke-linejoin="miter" stroke-linecap="butt"/>
<path d="M651.00 516.00 L632.30 495.10 L632.30 745.00 L643.75 766.25" stroke="#161616" stroke-width="4.9" fill="none" stroke-linejoin="miter" stroke-linecap="butt"/>
<path d="M652.80 453.50 L627.40 488.80 L627.40 745.00 L618.25 766.25" stroke="#d8bd93" stroke-width="4.9" fill="none" stroke-linejoin="miter" stroke-linecap="butt"/>
<path d="M701.80 516.90 L678.60 496.50 L678.60 662.30 L834.50 662.30 L834.50 750.00 L844.25 764.50" stroke="#161616" stroke-width="4.8" fill="none" stroke-linejoin="miter" stroke-linecap="butt"/>
<path d="M701.60 452.80 L673.90 491.60 L673.90 667.50 L829.50 667.50 L829.50 750.00 L818.75 764.50" stroke="#8f6536" stroke-width="4.6" fill="none" stroke-linejoin="miter" stroke-linecap="butt"/>
<path d="M751.50 516.90 L730.00 492.70 L730.00 642.40 L1000.50 642.40 L1000.50 737.50 L1009.00 766.25" stroke="#161616" stroke-width="5.1" fill="none" stroke-linejoin="miter" stroke-linecap="butt"/>
<path d="M750.60 453.60 L724.80 485.80 L724.80 647.40 L995.50 647.40 L995.50 737.50 L983.50 766.25" stroke="#a9a39d" stroke-width="5.0" fill="none" stroke-linejoin="miter" stroke-linecap="butt"/>
<path d="M797.90 516.90 L777.80 486.90 L777.80 619.10 L1152.75 619.10 L1152.75 746.00 L1160.50 766.25" stroke="#161616" stroke-width="4.5" fill="none" stroke-linejoin="miter" stroke-linecap="butt"/>
<path d="M800.30 454.20 L772.90 480.00 L772.90 624.30 L1147.50 624.30 L1147.50 746.00 L1135.25 766.25" stroke="#1f8fd1" stroke-width="5.2" fill="none" stroke-linejoin="miter" stroke-linecap="butt"/>
<path d="M849.60 516.90 L826.00 489.20 L826.00 599.90 L1318.25 599.90 L1318.25 743.75 L1329.25 766.25" stroke="#161616" stroke-width="4.6" fill="none" stroke-linejoin="miter" stroke-linecap="butt"/>
<path d="M849.20 453.60 L821.00 483.20 L821.00 605.10 L1313.25 605.10 L1313.25 743.75 L1303.75 766.25" stroke="#2fa551" stroke-width="5.2" fill="none" stroke-linejoin="miter" stroke-linecap="butt"/>
<rect x="963.40" y="1003.40" width="319.30" height="88.00" rx="0" stroke="#111" stroke-width="1.3" fill="none"/>
<line x1="1050.40" y1="1003.40" x2="1050.40" y2="1091.40" stroke="#111" stroke-width="1.3"/>
<line x1="1166.60" y1="1003.40" x2="1166.60" y2="1091.40" stroke="#111" stroke-width="1.3"/>
<path d="M1013.50 1033.20 L1037.00 1033.20 A10.8 19.8 0 0 1 1037.00 1072.80 L1013.50 1072.80 Z" fill="#1c1c1c"/>
<path d="M1021.50 1035.70 L1036.00 1035.70 A8.64 15.84 0 0 1 1042.50 1050.50 L1023.50 1050.50 Z" fill="#7f7f7f" stroke="#eee" stroke-width="0.7"/>
<path d="M984.60 1032.40 L1017.50 1032.40 A10.8 20.6 0 0 1 1017.50 1073.60 L984.60 1073.60 Z" fill="#8b8b8b" stroke="#eee" stroke-width="0.8"/>
<ellipse cx="984.60" cy="1053.00" rx="10.8" ry="20.6" fill="#8b8b8b"/>
<ellipse cx="985.10" cy="1053.40" rx="5.9" ry="11.6" fill="#fff"/>
<path d="M988.10 1043.50 A5.2 10.5 0 0 0 988.10 1063.00" fill="none" stroke="#444" stroke-width="0.6"/>
<path d="M1018.82 1035.20 L991.51 1035.20 L994.51 1041.60 L1020.32 1041.60" fill="none" stroke="#f2f2f2" stroke-width="0.8"/>
<path d="M1021.12 1047.40 L996.44 1047.40 L996.44 1054.70 L1021.12 1054.70" fill="none" stroke="#f2f2f2" stroke-width="0.8"/>
<path d="M1021.13 1062.20 L995.98 1062.20 L993.48 1067.70 L1020.13 1067.70" fill="none" stroke="#f2f2f2" stroke-width="0.8"/>
<path d="M967.6 1072 A20 30 0 0 0 985.2 1082.3 A20 30 0 0 0 1005.2 1052.2 A20 30 0 0 0 985.2 1022.2 A20 30 0 0 0 967.5 1036" fill="none" stroke="#111" stroke-width="2.9" stroke-linecap="butt"/>
<path d="M967.6 1072 A20 30 0 0 0 985.2 1082.3 A20 30 0 0 0 1005.2 1052.2 A20 30 0 0 0 985.2 1022.2 A20 30 0 0 0 967.5 1036" fill="none" stroke="#fff" stroke-width="1.00" stroke-linecap="butt"/>
<path d="M965.2 1037.6 L968.3 1029.3 L969.6 1033.6 L973.2 1034.2 Z" stroke="#111" stroke-width="0.9" fill="#fff"/>
<path d="M1109.00 1031.00 L1130.60 1031.00 A10.8 20.0 0 0 1 1130.60 1071.00 L1109.00 1071.00 Z" fill="#1c1c1c"/>
<path d="M1117.00 1033.50 L1129.60 1033.50 A8.64 16.00 0 0 1 1136.10 1048.50 L1119.00 1048.50 Z" fill="#1c1c1c" stroke="#eee" stroke-width="0.7"/>
<path d="M1099.60 1031.00 L1113.00 1031.00 A10.8 20.0 0 0 1 1113.00 1071.00 L1099.60 1071.00 Z" fill="#8b8b8b" stroke="#eee" stroke-width="0.7"/>
<path d="M1065.60 1030.20 L1099.60 1030.20 A10.8 20.8 0 0 1 1099.60 1071.80 L1065.60 1071.80 Z" fill="#8b8b8b" stroke="#eee" stroke-width="0.8"/>
<ellipse cx="1065.60" cy="1051.00" rx="10.8" ry="20.8" fill="#8b8b8b"/>
<ellipse cx="1066.10" cy="1051.40" rx="5.9" ry="11.6" fill="#fff"/>
<path d="M1069.10 1041.50 A5.2 10.5 0 0 0 1069.10 1061.00" fill="none" stroke="#444" stroke-width="0.6"/>
<path d="M1100.96 1033.20 L1072.74 1033.20 L1075.74 1039.60 L1102.46 1039.60" fill="none" stroke="#f2f2f2" stroke-width="0.8"/>
<path d="M1103.34 1045.40 L1077.84 1045.40 L1077.84 1052.70 L1103.34 1052.70" fill="none" stroke="#f2f2f2" stroke-width="0.8"/>
<path d="M1103.32 1060.20 L1077.28 1060.20 L1074.78 1065.70 L1102.32 1065.70" fill="none" stroke="#f2f2f2" stroke-width="0.8"/>
<path d="M1158.5 1028 L1134.4 1039.6" stroke="#9a9a9a" stroke-width="3.6" fill="none"/>
<path d="M1158.5 1028 L1134.4 1039.6" stroke="#e6e6e6" stroke-width="1.6" stroke-dasharray="1.2 1.4" fill="none"/>
<path d="M1166.6 1021 L1157.8 1025.7 L1159.5 1030.3 L1166.6 1029 M1158.6 1028 L1166.6 1025" stroke="#111" stroke-width="1.0" fill="none"/>
<path d="M1166.6 1011.8 L1140.6 1022.7 L1138.5 1019 L1134.2 1028.2 L1143.5 1029.7 L1142.7 1026.5 L1166.6 1015.6" stroke="#111" stroke-width="1.0" fill="#fff"/>
<path d="M1231.50 1030.20 L1255.00 1030.20 A10.8 19.8 0 0 1 1255.00 1069.80 L1231.50 1069.80 Z" fill="#1c1c1c"/>
<path d="M1239.50 1032.70 L1254.00 1032.70 A8.64 15.84 0 0 1 1260.50 1047.50 L1241.50 1047.50 Z" fill="#1c1c1c" stroke="#eee" stroke-width="0.7"/>
<path d="M1223.50 1030.20 L1235.50 1030.20 A10.8 19.8 0 0 1 1235.50 1069.80 L1223.50 1069.80 Z" fill="#8b8b8b" stroke="#eee" stroke-width="0.7"/>
<path d="M1190.60 1029.40 L1223.50 1029.40 A10.8 20.6 0 0 1 1223.50 1070.60 L1190.60 1070.60 Z" fill="#8b8b8b" stroke="#eee" stroke-width="0.8"/>
<ellipse cx="1190.60" cy="1050.00" rx="10.8" ry="20.6" fill="#8b8b8b"/>
<ellipse cx="1191.10" cy="1050.40" rx="5.9" ry="11.6" fill="#fff"/>
<path d="M1194.10 1040.50 A5.2 10.5 0 0 0 1194.10 1060.00" fill="none" stroke="#444" stroke-width="0.6"/>
<path d="M1224.82 1032.20 L1197.51 1032.20 L1200.51 1038.60 L1226.32 1038.60" fill="none" stroke="#f2f2f2" stroke-width="0.8"/>
<path d="M1227.12 1044.40 L1202.44 1044.40 L1202.44 1051.70 L1227.12 1051.70" fill="none" stroke="#f2f2f2" stroke-width="0.8"/>
<path d="M1227.13 1059.20 L1201.98 1059.20 L1199.48 1064.70 L1226.13 1064.70" fill="none" stroke="#f2f2f2" stroke-width="0.8"/>
<path d="M1210 1069.3 A20.7 30 0 0 1 1191.3 1079.4 A20.7 30 0 0 1 1170.6 1049.4 A20.7 30 0 0 1 1191.3 1019.4 A20.7 30 0 0 1 1210 1034.5" fill="none" stroke="#111" stroke-width="2.9" stroke-linecap="butt"/>
<path d="M1210 1069.3 A20.7 30 0 0 1 1191.3 1079.4 A20.7 30 0 0 1 1170.6 1049.4 A20.7 30 0 0 1 1191.3 1019.4 A20.7 30 0 0 1 1210 1034.5" fill="none" stroke="#fff" stroke-width="1.00" stroke-linecap="butt"/>
<path d="M1212.3 1034.2 L1204.6 1031.5 L1208.6 1029.7 L1209 1026 Z" stroke="#111" stroke-width="0.9" fill="#fff"/>
<path d="M1281.8 1024.6 L1253.4 1040 M1281.8 1027.8 L1254.4 1042.4 M1281.8 1031 L1255.6 1044.8" stroke="#111" stroke-width="0.95" fill="none"/>
</svg>
</body></html>
